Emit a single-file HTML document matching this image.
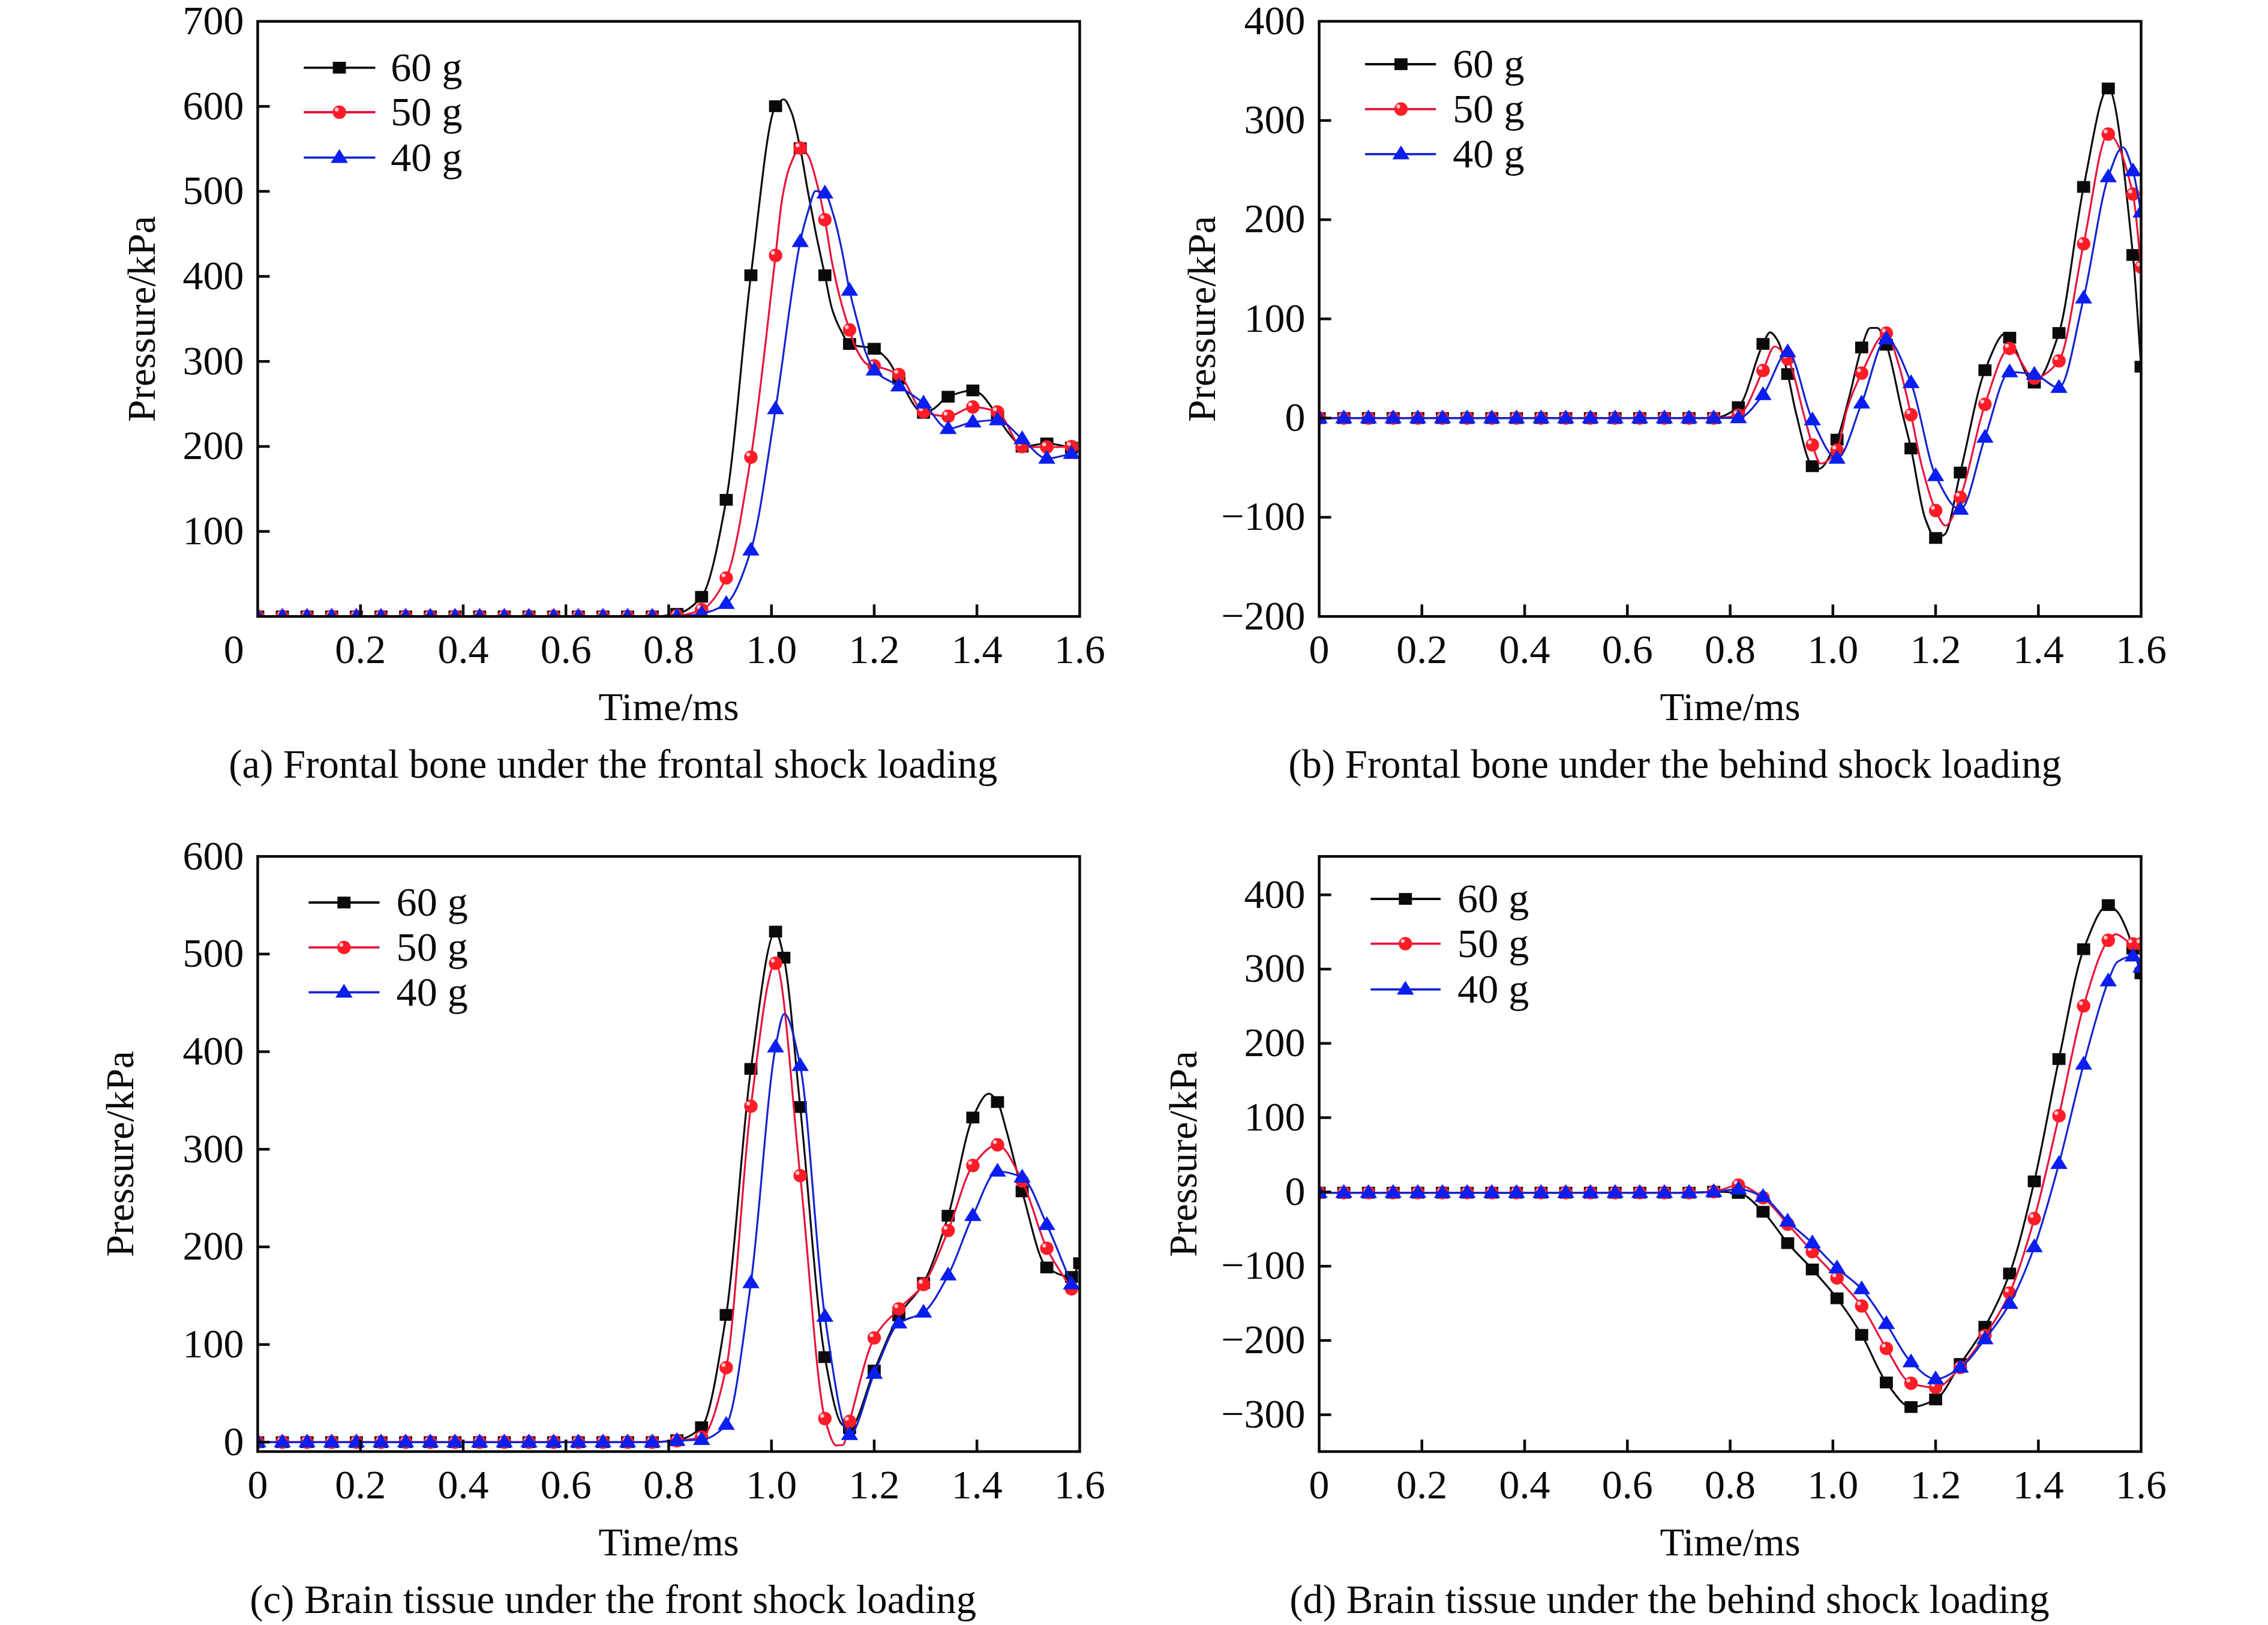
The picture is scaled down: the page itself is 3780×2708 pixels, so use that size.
<!DOCTYPE html><html><head><meta charset="utf-8"><style>html,body{margin:0;padding:0;background:#fff;width:3780px;height:2708px;overflow:hidden}</style></head><body><svg width="3780" height="2708" viewBox="0 0 3780 2708" style="display:block">
<defs><clipPath id="clipa"><rect x="429.5" y="35.6" width="1370.0" height="991.6999999999999"/></clipPath><clipPath id="clipb"><rect x="2198.6" y="35.5" width="1369.9" height="991.8"/></clipPath><clipPath id="clipc"><rect x="429.5" y="1427.2" width="1370.0" height="991.8"/></clipPath><clipPath id="clipd"><rect x="2198.6" y="1427.2" width="1369.9" height="991.8"/></clipPath></defs>
<rect width="3780" height="2708" fill="#fff"/>
<g font-family='"Liberation Serif", serif' font-size="66.5" fill="#0a0a0a">
<g clip-path="url(#clipa)">
<path d="M429.5 1027.3C443.2 1027.3 456.9 1027.3 470.6 1027.3C484.3 1027.3 498.0 1027.3 511.7 1027.3C525.4 1027.3 539.1 1027.3 552.8 1027.3C566.5 1027.3 580.2 1027.3 593.9 1027.3C607.6 1027.3 621.3 1027.3 635.0 1027.3C648.7 1027.3 662.4 1027.3 676.1 1027.3C689.8 1027.3 703.5 1027.3 717.2 1027.3C730.9 1027.3 744.6 1027.3 758.3 1027.3C772.0 1027.3 785.7 1027.3 799.4 1027.3C813.1 1027.3 826.8 1027.3 840.5 1027.3C854.2 1027.3 867.9 1027.3 881.6 1027.3C895.3 1027.3 909.0 1027.3 922.7 1027.3C936.4 1027.3 950.1 1027.3 963.8 1027.3C977.5 1027.3 991.2 1027.3 1004.9 1027.3C1018.6 1027.3 1032.3 1027.3 1046.0 1027.3C1059.7 1027.3 1073.4 1027.3 1087.1 1027.3C1100.8 1027.3 1114.5 1025.5 1128.2 1023.0C1141.9 1020.5 1155.6 1010.7 1169.3 994.6C1183.0 978.5 1196.7 908.2 1210.4 832.9C1224.1 757.6 1237.8 565.8 1251.5 458.7C1265.2 351.6 1278.9 195.2 1292.6 177.0C1297.1 171.0 1301.7 165.5 1306.2 165.5C1310.5 165.5 1314.8 177.0 1319.1 187.1C1324.0 198.6 1328.8 223.8 1333.7 247.0C1338.1 268.0 1342.5 297.5 1346.9 321.4C1351.0 343.8 1355.2 365.8 1359.3 386.2C1364.5 411.8 1369.6 434.5 1374.8 458.7C1378.9 477.7 1382.9 502.7 1387.0 515.8C1391.7 530.8 1396.3 540.9 1401.0 549.8C1406.0 559.3 1410.9 571.2 1415.9 573.2C1429.6 578.6 1443.3 576.6 1457.0 581.2C1464.5 583.7 1472.0 591.2 1479.5 599.7C1482.5 603.1 1485.6 609.0 1488.6 614.1C1491.8 619.4 1494.9 625.9 1498.1 631.0C1511.8 652.9 1525.5 688.0 1539.2 688.0C1544.0 688.0 1548.9 685.1 1553.7 682.8C1562.6 678.5 1571.4 664.7 1580.3 661.1C1594.0 655.6 1607.7 650.6 1621.4 650.6C1625.3 650.6 1629.3 653.3 1633.2 655.7C1639.8 659.7 1646.4 670.2 1653.0 679.2C1656.2 683.5 1659.3 689.0 1662.5 694.0C1665.4 698.6 1668.3 703.9 1671.2 708.1C1677.2 716.9 1683.2 725.3 1689.2 731.6C1694.0 736.6 1698.8 744.3 1703.6 744.3C1717.3 744.3 1731.0 739.0 1744.7 739.0C1758.4 739.0 1772.1 743.7 1785.8 746.0" fill="none" stroke="#0c0c0c" stroke-width="3.2" stroke-linejoin="round"/>
<rect x="418.6" y="1017.5" width="21.8" height="19.6" fill="#0a0a0a"/>
<rect x="459.7" y="1017.5" width="21.8" height="19.6" fill="#0a0a0a"/>
<rect x="500.8" y="1017.5" width="21.8" height="19.6" fill="#0a0a0a"/>
<rect x="541.9" y="1017.5" width="21.8" height="19.6" fill="#0a0a0a"/>
<rect x="583.0" y="1017.5" width="21.8" height="19.6" fill="#0a0a0a"/>
<rect x="624.1" y="1017.5" width="21.8" height="19.6" fill="#0a0a0a"/>
<rect x="665.2" y="1017.5" width="21.8" height="19.6" fill="#0a0a0a"/>
<rect x="706.3" y="1017.5" width="21.8" height="19.6" fill="#0a0a0a"/>
<rect x="747.4" y="1017.5" width="21.8" height="19.6" fill="#0a0a0a"/>
<rect x="788.5" y="1017.5" width="21.8" height="19.6" fill="#0a0a0a"/>
<rect x="829.6" y="1017.5" width="21.8" height="19.6" fill="#0a0a0a"/>
<rect x="870.7" y="1017.5" width="21.8" height="19.6" fill="#0a0a0a"/>
<rect x="911.8" y="1017.5" width="21.8" height="19.6" fill="#0a0a0a"/>
<rect x="952.9" y="1017.5" width="21.8" height="19.6" fill="#0a0a0a"/>
<rect x="994.0" y="1017.5" width="21.8" height="19.6" fill="#0a0a0a"/>
<rect x="1035.1" y="1017.5" width="21.8" height="19.6" fill="#0a0a0a"/>
<rect x="1076.2" y="1017.5" width="21.8" height="19.6" fill="#0a0a0a"/>
<rect x="1117.3" y="1013.2" width="21.8" height="19.6" fill="#0a0a0a"/>
<rect x="1158.4" y="984.8" width="21.8" height="19.6" fill="#0a0a0a"/>
<rect x="1199.5" y="823.1" width="21.8" height="19.6" fill="#0a0a0a"/>
<rect x="1240.6" y="448.9" width="21.8" height="19.6" fill="#0a0a0a"/>
<rect x="1281.7" y="167.2" width="21.8" height="19.6" fill="#0a0a0a"/>
<rect x="1322.8" y="237.2" width="21.8" height="19.6" fill="#0a0a0a"/>
<rect x="1363.9" y="448.9" width="21.8" height="19.6" fill="#0a0a0a"/>
<rect x="1405.0" y="563.4" width="21.8" height="19.6" fill="#0a0a0a"/>
<rect x="1446.1" y="571.4" width="21.8" height="19.6" fill="#0a0a0a"/>
<rect x="1487.2" y="621.2" width="21.8" height="19.6" fill="#0a0a0a"/>
<rect x="1528.3" y="678.2" width="21.8" height="19.6" fill="#0a0a0a"/>
<rect x="1569.4" y="651.3" width="21.8" height="19.6" fill="#0a0a0a"/>
<rect x="1610.5" y="640.8" width="21.8" height="19.6" fill="#0a0a0a"/>
<rect x="1651.6" y="684.2" width="21.8" height="19.6" fill="#0a0a0a"/>
<rect x="1692.7" y="734.5" width="21.8" height="19.6" fill="#0a0a0a"/>
<rect x="1733.8" y="729.2" width="21.8" height="19.6" fill="#0a0a0a"/>
<rect x="1774.9" y="736.2" width="21.8" height="19.6" fill="#0a0a0a"/>
<path d="M429.5 1027.3C443.2 1027.3 456.9 1027.3 470.6 1027.3C484.3 1027.3 498.0 1027.3 511.7 1027.3C525.4 1027.3 539.1 1027.3 552.8 1027.3C566.5 1027.3 580.2 1027.3 593.9 1027.3C607.6 1027.3 621.3 1027.3 635.0 1027.3C648.7 1027.3 662.4 1027.3 676.1 1027.3C689.8 1027.3 703.5 1027.3 717.2 1027.3C730.9 1027.3 744.6 1027.3 758.3 1027.3C772.0 1027.3 785.7 1027.3 799.4 1027.3C813.1 1027.3 826.8 1027.3 840.5 1027.3C854.2 1027.3 867.9 1027.3 881.6 1027.3C895.3 1027.3 909.0 1027.3 922.7 1027.3C936.4 1027.3 950.1 1027.3 963.8 1027.3C977.5 1027.3 991.2 1027.3 1004.9 1027.3C1018.6 1027.3 1032.3 1027.3 1046.0 1027.3C1059.7 1027.3 1073.4 1027.3 1087.1 1027.3C1100.8 1027.3 1114.5 1026.8 1128.2 1026.0C1141.9 1025.2 1155.6 1021.6 1169.3 1016.0C1183.0 1010.4 1196.7 991.0 1210.4 963.1C1224.1 935.2 1237.8 845.8 1251.5 761.9C1265.2 678.0 1278.9 540.9 1292.6 425.7C1296.3 394.6 1300.0 351.8 1303.7 330.6C1307.8 307.1 1311.9 288.6 1316.0 278.1C1321.9 262.9 1327.8 246.7 1333.7 246.7C1338.1 246.7 1342.6 253.1 1347.0 259.6C1352.1 267.1 1357.2 289.6 1362.3 309.0C1366.5 324.9 1370.6 344.6 1374.8 366.1C1378.9 387.1 1382.9 417.9 1387.0 438.6C1391.7 462.3 1396.3 482.7 1401.0 500.4C1406.0 519.2 1410.9 534.7 1415.9 549.8C1419.6 561.2 1423.4 574.4 1427.1 581.6C1433.1 593.2 1439.2 604.6 1445.2 606.9C1449.1 608.4 1453.1 608.5 1457.0 609.6C1470.7 613.3 1484.4 616.3 1498.1 624.1C1511.8 631.9 1525.5 682.0 1539.2 686.4C1552.9 690.8 1566.6 693.7 1580.3 693.7C1594.0 693.7 1607.7 678.3 1621.4 678.3C1635.1 678.3 1648.8 681.7 1662.5 686.4C1676.2 691.1 1689.9 743.8 1703.6 744.3C1717.3 744.8 1731.0 745.0 1744.7 745.0C1758.4 745.0 1772.1 744.5 1785.8 744.3" fill="none" stroke="#e8143c" stroke-width="3.2" stroke-linejoin="round"/>
<circle cx="429.5" cy="1027.3" r="11.2" fill="#ff1c26"/><circle cx="425.0" cy="1022.8" r="3.2" fill="#ffc8d8"/>
<circle cx="470.6" cy="1027.3" r="11.2" fill="#ff1c26"/><circle cx="466.1" cy="1022.8" r="3.2" fill="#ffc8d8"/>
<circle cx="511.7" cy="1027.3" r="11.2" fill="#ff1c26"/><circle cx="507.2" cy="1022.8" r="3.2" fill="#ffc8d8"/>
<circle cx="552.8" cy="1027.3" r="11.2" fill="#ff1c26"/><circle cx="548.3" cy="1022.8" r="3.2" fill="#ffc8d8"/>
<circle cx="593.9" cy="1027.3" r="11.2" fill="#ff1c26"/><circle cx="589.4" cy="1022.8" r="3.2" fill="#ffc8d8"/>
<circle cx="635.0" cy="1027.3" r="11.2" fill="#ff1c26"/><circle cx="630.5" cy="1022.8" r="3.2" fill="#ffc8d8"/>
<circle cx="676.1" cy="1027.3" r="11.2" fill="#ff1c26"/><circle cx="671.6" cy="1022.8" r="3.2" fill="#ffc8d8"/>
<circle cx="717.2" cy="1027.3" r="11.2" fill="#ff1c26"/><circle cx="712.7" cy="1022.8" r="3.2" fill="#ffc8d8"/>
<circle cx="758.3" cy="1027.3" r="11.2" fill="#ff1c26"/><circle cx="753.8" cy="1022.8" r="3.2" fill="#ffc8d8"/>
<circle cx="799.4" cy="1027.3" r="11.2" fill="#ff1c26"/><circle cx="794.9" cy="1022.8" r="3.2" fill="#ffc8d8"/>
<circle cx="840.5" cy="1027.3" r="11.2" fill="#ff1c26"/><circle cx="836.0" cy="1022.8" r="3.2" fill="#ffc8d8"/>
<circle cx="881.6" cy="1027.3" r="11.2" fill="#ff1c26"/><circle cx="877.1" cy="1022.8" r="3.2" fill="#ffc8d8"/>
<circle cx="922.7" cy="1027.3" r="11.2" fill="#ff1c26"/><circle cx="918.2" cy="1022.8" r="3.2" fill="#ffc8d8"/>
<circle cx="963.8" cy="1027.3" r="11.2" fill="#ff1c26"/><circle cx="959.3" cy="1022.8" r="3.2" fill="#ffc8d8"/>
<circle cx="1004.9" cy="1027.3" r="11.2" fill="#ff1c26"/><circle cx="1000.4" cy="1022.8" r="3.2" fill="#ffc8d8"/>
<circle cx="1046.0" cy="1027.3" r="11.2" fill="#ff1c26"/><circle cx="1041.5" cy="1022.8" r="3.2" fill="#ffc8d8"/>
<circle cx="1087.1" cy="1027.3" r="11.2" fill="#ff1c26"/><circle cx="1082.6" cy="1022.8" r="3.2" fill="#ffc8d8"/>
<circle cx="1128.2" cy="1026.0" r="11.2" fill="#ff1c26"/><circle cx="1123.7" cy="1021.5" r="3.2" fill="#ffc8d8"/>
<circle cx="1169.3" cy="1016.0" r="11.2" fill="#ff1c26"/><circle cx="1164.8" cy="1011.5" r="3.2" fill="#ffc8d8"/>
<circle cx="1210.4" cy="963.1" r="11.2" fill="#ff1c26"/><circle cx="1205.9" cy="958.6" r="3.2" fill="#ffc8d8"/>
<circle cx="1251.5" cy="761.9" r="11.2" fill="#ff1c26"/><circle cx="1247.0" cy="757.4" r="3.2" fill="#ffc8d8"/>
<circle cx="1292.6" cy="425.7" r="11.2" fill="#ff1c26"/><circle cx="1288.1" cy="421.2" r="3.2" fill="#ffc8d8"/>
<circle cx="1333.7" cy="246.7" r="11.2" fill="#ff1c26"/><circle cx="1329.2" cy="242.2" r="3.2" fill="#ffc8d8"/>
<circle cx="1374.8" cy="366.1" r="11.2" fill="#ff1c26"/><circle cx="1370.3" cy="361.6" r="3.2" fill="#ffc8d8"/>
<circle cx="1415.9" cy="549.8" r="11.2" fill="#ff1c26"/><circle cx="1411.4" cy="545.3" r="3.2" fill="#ffc8d8"/>
<circle cx="1457.0" cy="609.6" r="11.2" fill="#ff1c26"/><circle cx="1452.5" cy="605.1" r="3.2" fill="#ffc8d8"/>
<circle cx="1498.1" cy="624.1" r="11.2" fill="#ff1c26"/><circle cx="1493.6" cy="619.6" r="3.2" fill="#ffc8d8"/>
<circle cx="1539.2" cy="686.4" r="11.2" fill="#ff1c26"/><circle cx="1534.7" cy="681.9" r="3.2" fill="#ffc8d8"/>
<circle cx="1580.3" cy="693.7" r="11.2" fill="#ff1c26"/><circle cx="1575.8" cy="689.2" r="3.2" fill="#ffc8d8"/>
<circle cx="1621.4" cy="678.3" r="11.2" fill="#ff1c26"/><circle cx="1616.9" cy="673.8" r="3.2" fill="#ffc8d8"/>
<circle cx="1662.5" cy="686.4" r="11.2" fill="#ff1c26"/><circle cx="1658.0" cy="681.9" r="3.2" fill="#ffc8d8"/>
<circle cx="1703.6" cy="744.3" r="11.2" fill="#ff1c26"/><circle cx="1699.1" cy="739.8" r="3.2" fill="#ffc8d8"/>
<circle cx="1744.7" cy="745.0" r="11.2" fill="#ff1c26"/><circle cx="1740.2" cy="740.5" r="3.2" fill="#ffc8d8"/>
<circle cx="1785.8" cy="744.3" r="11.2" fill="#ff1c26"/><circle cx="1781.3" cy="739.8" r="3.2" fill="#ffc8d8"/>
<path d="M429.5 1027.3C443.2 1027.3 456.9 1027.3 470.6 1027.3C484.3 1027.3 498.0 1027.3 511.7 1027.3C525.4 1027.3 539.1 1027.3 552.8 1027.3C566.5 1027.3 580.2 1027.3 593.9 1027.3C607.6 1027.3 621.3 1027.3 635.0 1027.3C648.7 1027.3 662.4 1027.3 676.1 1027.3C689.8 1027.3 703.5 1027.3 717.2 1027.3C730.9 1027.3 744.6 1027.3 758.3 1027.3C772.0 1027.3 785.7 1027.3 799.4 1027.3C813.1 1027.3 826.8 1027.3 840.5 1027.3C854.2 1027.3 867.9 1027.3 881.6 1027.3C895.3 1027.3 909.0 1027.3 922.7 1027.3C936.4 1027.3 950.1 1027.3 963.8 1027.3C977.5 1027.3 991.2 1027.3 1004.9 1027.3C1018.6 1027.3 1032.3 1027.3 1046.0 1027.3C1059.7 1027.3 1073.4 1027.3 1087.1 1027.3C1100.8 1027.3 1114.5 1027.3 1128.2 1027.3C1141.9 1027.3 1155.6 1025.0 1169.3 1022.5C1183.0 1020.0 1196.7 1015.3 1210.4 1006.0C1224.1 996.7 1237.8 960.1 1251.5 917.0C1265.2 873.9 1278.9 766.6 1292.6 681.5C1306.3 596.4 1320.0 467.2 1333.7 403.0C1338.1 382.4 1342.5 366.2 1346.9 352.2C1351.0 339.0 1355.2 318.3 1359.3 318.3C1364.5 318.3 1369.6 319.7 1374.8 322.0C1379.9 324.2 1384.9 345.1 1390.0 361.5C1394.2 375.0 1398.3 394.6 1402.5 414.0C1407.0 434.8 1411.4 463.9 1415.9 484.0C1420.7 505.5 1425.4 522.2 1430.2 540.5C1434.3 556.4 1438.5 575.6 1442.6 586.8C1447.4 599.8 1452.2 611.8 1457.0 617.0C1470.7 631.8 1484.4 634.3 1498.1 643.5C1511.8 652.7 1525.5 660.6 1539.2 672.0C1552.9 683.4 1566.6 714.5 1580.3 714.5C1594.0 714.5 1607.7 705.3 1621.4 703.5C1635.1 701.7 1648.8 700.0 1662.5 700.0C1676.2 700.0 1689.9 720.8 1703.6 731.5C1717.3 742.2 1731.0 764.0 1744.7 764.0C1758.4 764.0 1772.1 758.7 1785.8 756.0" fill="none" stroke="#1424d0" stroke-width="3.2" stroke-linejoin="round"/>
<path d="M429.5 1013.0L443.8 1036.0L415.2 1036.0Z" fill="#0a1ef0"/>
<path d="M470.6 1013.0L484.9 1036.0L456.3 1036.0Z" fill="#0a1ef0"/>
<path d="M511.7 1013.0L526.0 1036.0L497.4 1036.0Z" fill="#0a1ef0"/>
<path d="M552.8 1013.0L567.1 1036.0L538.5 1036.0Z" fill="#0a1ef0"/>
<path d="M593.9 1013.0L608.2 1036.0L579.6 1036.0Z" fill="#0a1ef0"/>
<path d="M635.0 1013.0L649.3 1036.0L620.7 1036.0Z" fill="#0a1ef0"/>
<path d="M676.1 1013.0L690.4 1036.0L661.8 1036.0Z" fill="#0a1ef0"/>
<path d="M717.2 1013.0L731.5 1036.0L702.9 1036.0Z" fill="#0a1ef0"/>
<path d="M758.3 1013.0L772.6 1036.0L744.0 1036.0Z" fill="#0a1ef0"/>
<path d="M799.4 1013.0L813.7 1036.0L785.1 1036.0Z" fill="#0a1ef0"/>
<path d="M840.5 1013.0L854.8 1036.0L826.2 1036.0Z" fill="#0a1ef0"/>
<path d="M881.6 1013.0L895.9 1036.0L867.3 1036.0Z" fill="#0a1ef0"/>
<path d="M922.7 1013.0L937.0 1036.0L908.4 1036.0Z" fill="#0a1ef0"/>
<path d="M963.8 1013.0L978.1 1036.0L949.5 1036.0Z" fill="#0a1ef0"/>
<path d="M1004.9 1013.0L1019.2 1036.0L990.6 1036.0Z" fill="#0a1ef0"/>
<path d="M1046.0 1013.0L1060.3 1036.0L1031.7 1036.0Z" fill="#0a1ef0"/>
<path d="M1087.1 1013.0L1101.4 1036.0L1072.8 1036.0Z" fill="#0a1ef0"/>
<path d="M1128.2 1013.0L1142.5 1036.0L1113.9 1036.0Z" fill="#0a1ef0"/>
<path d="M1169.3 1008.2L1183.6 1031.2L1155.0 1031.2Z" fill="#0a1ef0"/>
<path d="M1210.4 991.7L1224.7 1014.7L1196.1 1014.7Z" fill="#0a1ef0"/>
<path d="M1251.5 902.7L1265.8 925.7L1237.2 925.7Z" fill="#0a1ef0"/>
<path d="M1292.6 667.2L1306.9 690.2L1278.3 690.2Z" fill="#0a1ef0"/>
<path d="M1333.7 388.7L1348.0 411.7L1319.4 411.7Z" fill="#0a1ef0"/>
<path d="M1374.8 307.7L1389.1 330.7L1360.5 330.7Z" fill="#0a1ef0"/>
<path d="M1415.9 469.7L1430.2 492.7L1401.6 492.7Z" fill="#0a1ef0"/>
<path d="M1457.0 602.7L1471.3 625.7L1442.7 625.7Z" fill="#0a1ef0"/>
<path d="M1498.1 629.2L1512.4 652.2L1483.8 652.2Z" fill="#0a1ef0"/>
<path d="M1539.2 657.7L1553.5 680.7L1524.9 680.7Z" fill="#0a1ef0"/>
<path d="M1580.3 700.2L1594.6 723.2L1566.0 723.2Z" fill="#0a1ef0"/>
<path d="M1621.4 689.2L1635.7 712.2L1607.1 712.2Z" fill="#0a1ef0"/>
<path d="M1662.5 685.7L1676.8 708.7L1648.2 708.7Z" fill="#0a1ef0"/>
<path d="M1703.6 717.2L1717.9 740.2L1689.3 740.2Z" fill="#0a1ef0"/>
<path d="M1744.7 749.7L1759.0 772.7L1730.4 772.7Z" fill="#0a1ef0"/>
<path d="M1785.8 741.7L1800.1 764.7L1771.5 764.7Z" fill="#0a1ef0"/>
</g>
<rect x="429.5" y="35.6" width="1370.0" height="991.7" fill="none" stroke="#0a0a0a" stroke-width="4.5"/>
<line x1="429.5" x2="449.5" y1="885.6" y2="885.6" stroke="#0a0a0a" stroke-width="4.5"/>
<line x1="429.5" x2="449.5" y1="744.0" y2="744.0" stroke="#0a0a0a" stroke-width="4.5"/>
<line x1="429.5" x2="449.5" y1="602.3" y2="602.3" stroke="#0a0a0a" stroke-width="4.5"/>
<line x1="429.5" x2="449.5" y1="460.6" y2="460.6" stroke="#0a0a0a" stroke-width="4.5"/>
<line x1="429.5" x2="449.5" y1="318.9" y2="318.9" stroke="#0a0a0a" stroke-width="4.5"/>
<line x1="429.5" x2="449.5" y1="177.3" y2="177.3" stroke="#0a0a0a" stroke-width="4.5"/>
<text x="406.5" y="906.9" text-anchor="end" font-size="68">100</text>
<text x="406.5" y="765.3" text-anchor="end" font-size="68">200</text>
<text x="406.5" y="623.6" text-anchor="end" font-size="68">300</text>
<text x="406.5" y="481.9" text-anchor="end" font-size="68">400</text>
<text x="406.5" y="340.2" text-anchor="end" font-size="68">500</text>
<text x="406.5" y="198.6" text-anchor="end" font-size="68">600</text>
<text x="406.5" y="56.9" text-anchor="end" font-size="68">700</text>
<line x1="600.8" x2="600.8" y1="1027.3" y2="1007.3" stroke="#0a0a0a" stroke-width="4.5"/>
<line x1="772.0" x2="772.0" y1="1027.3" y2="1007.3" stroke="#0a0a0a" stroke-width="4.5"/>
<line x1="943.2" x2="943.2" y1="1027.3" y2="1007.3" stroke="#0a0a0a" stroke-width="4.5"/>
<line x1="1114.5" x2="1114.5" y1="1027.3" y2="1007.3" stroke="#0a0a0a" stroke-width="4.5"/>
<line x1="1285.8" x2="1285.8" y1="1027.3" y2="1007.3" stroke="#0a0a0a" stroke-width="4.5"/>
<line x1="1457.0" x2="1457.0" y1="1027.3" y2="1007.3" stroke="#0a0a0a" stroke-width="4.5"/>
<line x1="1628.2" x2="1628.2" y1="1027.3" y2="1007.3" stroke="#0a0a0a" stroke-width="4.5"/>
<text x="389.7" y="1105.3" text-anchor="middle" font-size="68">0</text>
<text x="600.8" y="1105.3" text-anchor="middle" font-size="68">0.2</text>
<text x="772.0" y="1105.3" text-anchor="middle" font-size="68">0.4</text>
<text x="943.2" y="1105.3" text-anchor="middle" font-size="68">0.6</text>
<text x="1114.5" y="1105.3" text-anchor="middle" font-size="68">0.8</text>
<text x="1285.8" y="1105.3" text-anchor="middle" font-size="68">1.0</text>
<text x="1457.0" y="1105.3" text-anchor="middle" font-size="68">1.2</text>
<text x="1628.2" y="1105.3" text-anchor="middle" font-size="68">1.4</text>
<text x="1799.5" y="1105.3" text-anchor="middle" font-size="68">1.6</text>
<text x="1114.5" y="1200.0" text-anchor="middle">Time/ms</text>
<text transform="translate(258.4 531.4) rotate(-90)" x="0" y="0" text-anchor="middle">Pressure/kPa</text>
<text x="381.3" y="1296.3" font-size="66.78">(a) Frontal bone under the frontal shock loading</text>
<line x1="506.3" x2="625.5" y1="112.8" y2="112.8" stroke="#0c0c0c" stroke-width="3.8"/>
<rect x="554.7" y="103.0" width="21.8" height="19.6" fill="#0a0a0a"/>
<text x="651.2" y="134.8" font-size="68.3">60 g</text>
<line x1="506.3" x2="625.5" y1="187.0" y2="187.0" stroke="#e8143c" stroke-width="3.8"/>
<circle cx="565.6" cy="187.0" r="11.2" fill="#ff1c26"/><circle cx="561.1" cy="182.5" r="3.2" fill="#ffc8d8"/>
<text x="651.2" y="209.0" font-size="68.3">50 g</text>
<line x1="506.3" x2="625.5" y1="262.7" y2="262.7" stroke="#1424d0" stroke-width="3.8"/>
<path d="M565.6 248.4L579.9 271.4L551.3 271.4Z" fill="#0a1ef0"/>
<text x="651.2" y="284.7" font-size="68.3">40 g</text>
<g clip-path="url(#clipb)">
<path d="M2198.6 696.7C2212.3 696.7 2226.0 696.7 2239.7 696.7C2253.4 696.7 2267.1 696.7 2280.8 696.7C2294.5 696.7 2308.2 696.7 2321.9 696.7C2335.6 696.7 2349.3 696.7 2363.0 696.7C2376.7 696.7 2390.4 696.7 2404.1 696.7C2417.8 696.7 2431.5 696.7 2445.2 696.7C2458.9 696.7 2472.6 696.7 2486.3 696.7C2500.0 696.7 2513.7 696.7 2527.4 696.7C2541.1 696.7 2554.8 696.7 2568.5 696.7C2582.2 696.7 2595.9 696.7 2609.6 696.7C2623.3 696.7 2637.0 696.7 2650.7 696.7C2664.4 696.7 2678.1 696.7 2691.8 696.7C2705.5 696.7 2719.2 696.7 2732.9 696.7C2746.6 696.7 2760.3 696.7 2774.0 696.7C2787.7 696.7 2801.4 696.7 2815.1 696.7C2828.8 696.7 2842.5 696.7 2856.2 696.7C2869.9 696.7 2883.6 688.8 2897.3 678.5C2911.0 668.2 2924.7 599.4 2938.4 573.1C2942.3 565.6 2946.2 553.9 2950.1 553.9C2954.5 553.9 2959.0 561.3 2963.4 568.6C2968.8 577.4 2974.1 602.0 2979.5 623.3C2984.0 641.1 2988.5 669.1 2993.0 686.8C3002.2 723.0 3011.4 770.9 3020.6 776.9C3024.2 779.2 3027.7 781.3 3031.3 781.3C3041.4 781.3 3051.6 755.4 3061.7 732.6C3068.3 717.7 3075.0 687.8 3081.6 663.2C3088.7 637.0 3095.7 599.2 3102.8 579.0C3107.5 565.5 3112.3 546.5 3117.0 546.5C3120.9 546.5 3124.9 546.5 3128.8 546.5C3133.8 546.5 3138.9 561.9 3143.9 574.5C3152.7 596.4 3161.4 650.2 3170.2 686.8C3175.1 707.4 3180.1 725.5 3185.0 747.4C3192.9 782.4 3200.7 843.2 3208.6 864.0C3214.4 879.4 3220.3 896.5 3226.1 896.5C3231.1 896.5 3236.1 893.9 3241.1 890.6C3249.8 884.8 3258.5 822.7 3267.2 787.5C3280.9 732.1 3294.6 650.5 3308.3 616.9C3320.0 588.2 3331.7 554.9 3343.4 554.9C3345.4 554.9 3347.4 559.8 3349.4 562.7C3363.1 582.7 3376.8 637.6 3390.5 637.6C3404.2 637.6 3417.9 596.1 3431.6 554.9C3445.3 513.7 3459.0 376.8 3472.7 311.5C3486.4 246.2 3500.1 147.4 3513.8 147.4C3527.5 147.4 3541.2 293.5 3554.9 424.9C3559.4 468.4 3564.0 549.0 3568.5 611.1" fill="none" stroke="#0c0c0c" stroke-width="3.2" stroke-linejoin="round"/>
<rect x="2187.7" y="686.9" width="21.8" height="19.6" fill="#0a0a0a"/>
<rect x="2228.8" y="686.9" width="21.8" height="19.6" fill="#0a0a0a"/>
<rect x="2269.9" y="686.9" width="21.8" height="19.6" fill="#0a0a0a"/>
<rect x="2311.0" y="686.9" width="21.8" height="19.6" fill="#0a0a0a"/>
<rect x="2352.1" y="686.9" width="21.8" height="19.6" fill="#0a0a0a"/>
<rect x="2393.2" y="686.9" width="21.8" height="19.6" fill="#0a0a0a"/>
<rect x="2434.3" y="686.9" width="21.8" height="19.6" fill="#0a0a0a"/>
<rect x="2475.4" y="686.9" width="21.8" height="19.6" fill="#0a0a0a"/>
<rect x="2516.5" y="686.9" width="21.8" height="19.6" fill="#0a0a0a"/>
<rect x="2557.6" y="686.9" width="21.8" height="19.6" fill="#0a0a0a"/>
<rect x="2598.7" y="686.9" width="21.8" height="19.6" fill="#0a0a0a"/>
<rect x="2639.8" y="686.9" width="21.8" height="19.6" fill="#0a0a0a"/>
<rect x="2680.9" y="686.9" width="21.8" height="19.6" fill="#0a0a0a"/>
<rect x="2722.0" y="686.9" width="21.8" height="19.6" fill="#0a0a0a"/>
<rect x="2763.1" y="686.9" width="21.8" height="19.6" fill="#0a0a0a"/>
<rect x="2804.2" y="686.9" width="21.8" height="19.6" fill="#0a0a0a"/>
<rect x="2845.3" y="686.9" width="21.8" height="19.6" fill="#0a0a0a"/>
<rect x="2886.4" y="668.7" width="21.8" height="19.6" fill="#0a0a0a"/>
<rect x="2927.5" y="563.3" width="21.8" height="19.6" fill="#0a0a0a"/>
<rect x="2968.6" y="613.5" width="21.8" height="19.6" fill="#0a0a0a"/>
<rect x="3009.7" y="767.1" width="21.8" height="19.6" fill="#0a0a0a"/>
<rect x="3050.8" y="722.8" width="21.8" height="19.6" fill="#0a0a0a"/>
<rect x="3091.9" y="569.2" width="21.8" height="19.6" fill="#0a0a0a"/>
<rect x="3133.0" y="564.7" width="21.8" height="19.6" fill="#0a0a0a"/>
<rect x="3174.1" y="737.6" width="21.8" height="19.6" fill="#0a0a0a"/>
<rect x="3215.2" y="886.7" width="21.8" height="19.6" fill="#0a0a0a"/>
<rect x="3256.3" y="777.7" width="21.8" height="19.6" fill="#0a0a0a"/>
<rect x="3297.4" y="607.1" width="21.8" height="19.6" fill="#0a0a0a"/>
<rect x="3338.5" y="552.9" width="21.8" height="19.6" fill="#0a0a0a"/>
<rect x="3379.6" y="627.8" width="21.8" height="19.6" fill="#0a0a0a"/>
<rect x="3420.7" y="545.1" width="21.8" height="19.6" fill="#0a0a0a"/>
<rect x="3461.8" y="301.7" width="21.8" height="19.6" fill="#0a0a0a"/>
<rect x="3502.9" y="137.6" width="21.8" height="19.6" fill="#0a0a0a"/>
<rect x="3544.0" y="415.1" width="21.8" height="19.6" fill="#0a0a0a"/>
<rect x="3557.6" y="601.3" width="21.8" height="19.6" fill="#0a0a0a"/>
<path d="M2198.6 696.7C2212.3 696.7 2226.0 696.7 2239.7 696.7C2253.4 696.7 2267.1 696.7 2280.8 696.7C2294.5 696.7 2308.2 696.7 2321.9 696.7C2335.6 696.7 2349.3 696.7 2363.0 696.7C2376.7 696.7 2390.4 696.7 2404.1 696.7C2417.8 696.7 2431.5 696.7 2445.2 696.7C2458.9 696.7 2472.6 696.7 2486.3 696.7C2500.0 696.7 2513.7 696.7 2527.4 696.7C2541.1 696.7 2554.8 696.7 2568.5 696.7C2582.2 696.7 2595.9 696.7 2609.6 696.7C2623.3 696.7 2637.0 696.7 2650.7 696.7C2664.4 696.7 2678.1 696.7 2691.8 696.7C2705.5 696.7 2719.2 696.7 2732.9 696.7C2746.6 696.7 2760.3 696.7 2774.0 696.7C2787.7 696.7 2801.4 696.7 2815.1 696.7C2828.8 696.7 2842.5 696.7 2856.2 696.7C2869.9 696.7 2883.6 694.9 2897.3 692.0C2911.0 689.1 2924.7 644.2 2938.4 617.4C2944.8 604.9 2951.1 577.5 2957.5 577.5C2964.8 577.5 2972.2 587.6 2979.5 598.2C2988.9 611.8 2998.3 662.8 3007.7 695.7C3012.0 710.8 3016.3 729.5 3020.6 741.4C3025.2 754.1 3029.7 772.5 3034.3 772.5C3043.4 772.5 3052.6 763.4 3061.7 750.3C3067.3 742.2 3073.0 698.4 3078.6 680.9C3086.7 655.8 3094.7 637.8 3102.8 621.8C3116.5 594.7 3130.2 555.3 3143.9 555.3C3150.7 555.3 3157.5 585.8 3164.3 607.0C3171.2 628.5 3178.1 660.9 3185.0 691.2C3190.9 717.1 3196.8 752.5 3202.7 775.4C3210.5 805.6 3218.3 835.0 3226.1 850.8C3231.6 861.9 3237.1 875.9 3242.6 875.9C3250.8 875.9 3259.0 849.1 3267.2 828.9C3280.9 795.1 3294.6 712.6 3308.3 673.8C3322.0 635.0 3335.7 580.7 3349.4 580.7C3363.1 580.7 3376.8 630.0 3390.5 630.0C3404.2 630.0 3417.9 618.0 3431.6 601.4C3445.3 584.8 3459.0 469.2 3472.7 406.3C3486.4 343.4 3500.1 223.5 3513.8 223.5C3527.5 223.5 3541.2 265.5 3554.9 323.4C3559.4 342.6 3564.0 404.6 3568.5 445.2" fill="none" stroke="#e8143c" stroke-width="3.2" stroke-linejoin="round"/>
<circle cx="2198.6" cy="696.7" r="11.2" fill="#ff1c26"/><circle cx="2194.1" cy="692.2" r="3.2" fill="#ffc8d8"/>
<circle cx="2239.7" cy="696.7" r="11.2" fill="#ff1c26"/><circle cx="2235.2" cy="692.2" r="3.2" fill="#ffc8d8"/>
<circle cx="2280.8" cy="696.7" r="11.2" fill="#ff1c26"/><circle cx="2276.3" cy="692.2" r="3.2" fill="#ffc8d8"/>
<circle cx="2321.9" cy="696.7" r="11.2" fill="#ff1c26"/><circle cx="2317.4" cy="692.2" r="3.2" fill="#ffc8d8"/>
<circle cx="2363.0" cy="696.7" r="11.2" fill="#ff1c26"/><circle cx="2358.5" cy="692.2" r="3.2" fill="#ffc8d8"/>
<circle cx="2404.1" cy="696.7" r="11.2" fill="#ff1c26"/><circle cx="2399.6" cy="692.2" r="3.2" fill="#ffc8d8"/>
<circle cx="2445.2" cy="696.7" r="11.2" fill="#ff1c26"/><circle cx="2440.7" cy="692.2" r="3.2" fill="#ffc8d8"/>
<circle cx="2486.3" cy="696.7" r="11.2" fill="#ff1c26"/><circle cx="2481.8" cy="692.2" r="3.2" fill="#ffc8d8"/>
<circle cx="2527.4" cy="696.7" r="11.2" fill="#ff1c26"/><circle cx="2522.9" cy="692.2" r="3.2" fill="#ffc8d8"/>
<circle cx="2568.5" cy="696.7" r="11.2" fill="#ff1c26"/><circle cx="2564.0" cy="692.2" r="3.2" fill="#ffc8d8"/>
<circle cx="2609.6" cy="696.7" r="11.2" fill="#ff1c26"/><circle cx="2605.1" cy="692.2" r="3.2" fill="#ffc8d8"/>
<circle cx="2650.7" cy="696.7" r="11.2" fill="#ff1c26"/><circle cx="2646.2" cy="692.2" r="3.2" fill="#ffc8d8"/>
<circle cx="2691.8" cy="696.7" r="11.2" fill="#ff1c26"/><circle cx="2687.3" cy="692.2" r="3.2" fill="#ffc8d8"/>
<circle cx="2732.9" cy="696.7" r="11.2" fill="#ff1c26"/><circle cx="2728.4" cy="692.2" r="3.2" fill="#ffc8d8"/>
<circle cx="2774.0" cy="696.7" r="11.2" fill="#ff1c26"/><circle cx="2769.5" cy="692.2" r="3.2" fill="#ffc8d8"/>
<circle cx="2815.1" cy="696.7" r="11.2" fill="#ff1c26"/><circle cx="2810.6" cy="692.2" r="3.2" fill="#ffc8d8"/>
<circle cx="2856.2" cy="696.7" r="11.2" fill="#ff1c26"/><circle cx="2851.7" cy="692.2" r="3.2" fill="#ffc8d8"/>
<circle cx="2897.3" cy="692.0" r="11.2" fill="#ff1c26"/><circle cx="2892.8" cy="687.5" r="3.2" fill="#ffc8d8"/>
<circle cx="2938.4" cy="617.4" r="11.2" fill="#ff1c26"/><circle cx="2933.9" cy="612.9" r="3.2" fill="#ffc8d8"/>
<circle cx="2979.5" cy="598.2" r="11.2" fill="#ff1c26"/><circle cx="2975.0" cy="593.7" r="3.2" fill="#ffc8d8"/>
<circle cx="3020.6" cy="741.4" r="11.2" fill="#ff1c26"/><circle cx="3016.1" cy="736.9" r="3.2" fill="#ffc8d8"/>
<circle cx="3061.7" cy="750.3" r="11.2" fill="#ff1c26"/><circle cx="3057.2" cy="745.8" r="3.2" fill="#ffc8d8"/>
<circle cx="3102.8" cy="621.8" r="11.2" fill="#ff1c26"/><circle cx="3098.3" cy="617.3" r="3.2" fill="#ffc8d8"/>
<circle cx="3143.9" cy="555.3" r="11.2" fill="#ff1c26"/><circle cx="3139.4" cy="550.8" r="3.2" fill="#ffc8d8"/>
<circle cx="3185.0" cy="691.2" r="11.2" fill="#ff1c26"/><circle cx="3180.5" cy="686.7" r="3.2" fill="#ffc8d8"/>
<circle cx="3226.1" cy="850.8" r="11.2" fill="#ff1c26"/><circle cx="3221.6" cy="846.3" r="3.2" fill="#ffc8d8"/>
<circle cx="3267.2" cy="828.9" r="11.2" fill="#ff1c26"/><circle cx="3262.7" cy="824.4" r="3.2" fill="#ffc8d8"/>
<circle cx="3308.3" cy="673.8" r="11.2" fill="#ff1c26"/><circle cx="3303.8" cy="669.3" r="3.2" fill="#ffc8d8"/>
<circle cx="3349.4" cy="580.7" r="11.2" fill="#ff1c26"/><circle cx="3344.9" cy="576.2" r="3.2" fill="#ffc8d8"/>
<circle cx="3390.5" cy="630.0" r="11.2" fill="#ff1c26"/><circle cx="3386.0" cy="625.5" r="3.2" fill="#ffc8d8"/>
<circle cx="3431.6" cy="601.4" r="11.2" fill="#ff1c26"/><circle cx="3427.1" cy="596.9" r="3.2" fill="#ffc8d8"/>
<circle cx="3472.7" cy="406.3" r="11.2" fill="#ff1c26"/><circle cx="3468.2" cy="401.8" r="3.2" fill="#ffc8d8"/>
<circle cx="3513.8" cy="223.5" r="11.2" fill="#ff1c26"/><circle cx="3509.3" cy="219.0" r="3.2" fill="#ffc8d8"/>
<circle cx="3554.9" cy="323.4" r="11.2" fill="#ff1c26"/><circle cx="3550.4" cy="318.9" r="3.2" fill="#ffc8d8"/>
<circle cx="3568.5" cy="445.2" r="11.2" fill="#ff1c26"/><circle cx="3564.0" cy="440.7" r="3.2" fill="#ffc8d8"/>
<path d="M2198.6 696.7C2212.3 696.7 2226.0 696.7 2239.7 696.7C2253.4 696.7 2267.1 696.7 2280.8 696.7C2294.5 696.7 2308.2 696.7 2321.9 696.7C2335.6 696.7 2349.3 696.7 2363.0 696.7C2376.7 696.7 2390.4 696.7 2404.1 696.7C2417.8 696.7 2431.5 696.7 2445.2 696.7C2458.9 696.7 2472.6 696.7 2486.3 696.7C2500.0 696.7 2513.7 696.7 2527.4 696.7C2541.1 696.7 2554.8 696.7 2568.5 696.7C2582.2 696.7 2595.9 696.7 2609.6 696.7C2623.3 696.7 2637.0 696.7 2650.7 696.7C2664.4 696.7 2678.1 696.7 2691.8 696.7C2705.5 696.7 2719.2 696.7 2732.9 696.7C2746.6 696.7 2760.3 696.7 2774.0 696.7C2787.7 696.7 2801.4 696.7 2815.1 696.7C2828.8 696.7 2842.5 696.7 2856.2 696.7C2869.9 696.7 2883.6 696.6 2897.3 696.5C2911.0 696.4 2924.7 674.7 2938.4 658.0C2952.1 641.3 2965.8 586.5 2979.5 586.5C2993.2 586.5 3006.9 672.7 3020.6 700.0C3034.3 727.3 3048.0 764.0 3061.7 764.0C3075.4 764.0 3089.1 705.0 3102.8 672.0C3116.5 639.0 3130.2 565.0 3143.9 565.0C3157.6 565.0 3171.3 604.9 3185.0 638.0C3198.7 671.1 3212.4 765.6 3226.1 793.0C3239.8 820.4 3253.5 849.0 3267.2 849.0C3280.9 849.0 3294.6 767.1 3308.3 729.0C3322.0 690.9 3335.7 620.0 3349.4 620.0C3363.1 620.0 3376.8 621.7 3390.5 624.0C3404.2 626.3 3417.9 646.0 3431.6 646.0C3445.3 646.0 3459.0 554.2 3472.7 497.0C3486.4 439.8 3500.1 333.2 3513.8 295.0C3521.9 272.5 3529.9 245.5 3538.0 245.5C3543.6 245.5 3549.3 266.7 3554.9 285.0C3559.4 299.7 3564.0 330.9 3568.5 353.8" fill="none" stroke="#1424d0" stroke-width="3.2" stroke-linejoin="round"/>
<path d="M2198.6 682.4L2212.9 705.4L2184.3 705.4Z" fill="#0a1ef0"/>
<path d="M2239.7 682.4L2254.0 705.4L2225.4 705.4Z" fill="#0a1ef0"/>
<path d="M2280.8 682.4L2295.1 705.4L2266.5 705.4Z" fill="#0a1ef0"/>
<path d="M2321.9 682.4L2336.2 705.4L2307.6 705.4Z" fill="#0a1ef0"/>
<path d="M2363.0 682.4L2377.3 705.4L2348.7 705.4Z" fill="#0a1ef0"/>
<path d="M2404.1 682.4L2418.4 705.4L2389.8 705.4Z" fill="#0a1ef0"/>
<path d="M2445.2 682.4L2459.5 705.4L2430.9 705.4Z" fill="#0a1ef0"/>
<path d="M2486.3 682.4L2500.6 705.4L2472.0 705.4Z" fill="#0a1ef0"/>
<path d="M2527.4 682.4L2541.7 705.4L2513.1 705.4Z" fill="#0a1ef0"/>
<path d="M2568.5 682.4L2582.8 705.4L2554.2 705.4Z" fill="#0a1ef0"/>
<path d="M2609.6 682.4L2623.9 705.4L2595.3 705.4Z" fill="#0a1ef0"/>
<path d="M2650.7 682.4L2665.0 705.4L2636.4 705.4Z" fill="#0a1ef0"/>
<path d="M2691.8 682.4L2706.1 705.4L2677.5 705.4Z" fill="#0a1ef0"/>
<path d="M2732.9 682.4L2747.2 705.4L2718.6 705.4Z" fill="#0a1ef0"/>
<path d="M2774.0 682.4L2788.3 705.4L2759.7 705.4Z" fill="#0a1ef0"/>
<path d="M2815.1 682.4L2829.4 705.4L2800.8 705.4Z" fill="#0a1ef0"/>
<path d="M2856.2 682.4L2870.5 705.4L2841.9 705.4Z" fill="#0a1ef0"/>
<path d="M2897.3 682.2L2911.6 705.2L2883.0 705.2Z" fill="#0a1ef0"/>
<path d="M2938.4 643.7L2952.7 666.7L2924.1 666.7Z" fill="#0a1ef0"/>
<path d="M2979.5 572.2L2993.8 595.2L2965.2 595.2Z" fill="#0a1ef0"/>
<path d="M3020.6 685.7L3034.9 708.7L3006.3 708.7Z" fill="#0a1ef0"/>
<path d="M3061.7 749.7L3076.0 772.7L3047.4 772.7Z" fill="#0a1ef0"/>
<path d="M3102.8 657.7L3117.1 680.7L3088.5 680.7Z" fill="#0a1ef0"/>
<path d="M3143.9 550.7L3158.2 573.7L3129.6 573.7Z" fill="#0a1ef0"/>
<path d="M3185.0 623.7L3199.3 646.7L3170.7 646.7Z" fill="#0a1ef0"/>
<path d="M3226.1 778.7L3240.4 801.7L3211.8 801.7Z" fill="#0a1ef0"/>
<path d="M3267.2 834.7L3281.5 857.7L3252.9 857.7Z" fill="#0a1ef0"/>
<path d="M3308.3 714.7L3322.6 737.7L3294.0 737.7Z" fill="#0a1ef0"/>
<path d="M3349.4 605.7L3363.7 628.7L3335.1 628.7Z" fill="#0a1ef0"/>
<path d="M3390.5 609.7L3404.8 632.7L3376.2 632.7Z" fill="#0a1ef0"/>
<path d="M3431.6 631.7L3445.9 654.7L3417.3 654.7Z" fill="#0a1ef0"/>
<path d="M3472.7 482.7L3487.0 505.7L3458.4 505.7Z" fill="#0a1ef0"/>
<path d="M3513.8 280.7L3528.1 303.7L3499.5 303.7Z" fill="#0a1ef0"/>
<path d="M3554.9 270.7L3569.2 293.7L3540.6 293.7Z" fill="#0a1ef0"/>
<path d="M3568.5 339.5L3582.8 362.5L3554.2 362.5Z" fill="#0a1ef0"/>
</g>
<rect x="2198.6" y="35.5" width="1369.9" height="991.8" fill="none" stroke="#0a0a0a" stroke-width="4.5"/>
<line x1="2198.6" x2="2218.6" y1="862.0" y2="862.0" stroke="#0a0a0a" stroke-width="4.5"/>
<line x1="2198.6" x2="2218.6" y1="696.7" y2="696.7" stroke="#0a0a0a" stroke-width="4.5"/>
<line x1="2198.6" x2="2218.6" y1="531.4" y2="531.4" stroke="#0a0a0a" stroke-width="4.5"/>
<line x1="2198.6" x2="2218.6" y1="366.1" y2="366.1" stroke="#0a0a0a" stroke-width="4.5"/>
<line x1="2198.6" x2="2218.6" y1="200.8" y2="200.8" stroke="#0a0a0a" stroke-width="4.5"/>
<text x="2175.6" y="1048.6" text-anchor="end" font-size="68">−200</text>
<text x="2175.6" y="883.3" text-anchor="end" font-size="68">−100</text>
<text x="2175.6" y="718.0" text-anchor="end" font-size="68">0</text>
<text x="2175.6" y="552.7" text-anchor="end" font-size="68">100</text>
<text x="2175.6" y="387.4" text-anchor="end" font-size="68">200</text>
<text x="2175.6" y="222.1" text-anchor="end" font-size="68">300</text>
<text x="2175.6" y="56.8" text-anchor="end" font-size="68">400</text>
<line x1="2369.8" x2="2369.8" y1="1027.3" y2="1007.3" stroke="#0a0a0a" stroke-width="4.5"/>
<line x1="2541.1" x2="2541.1" y1="1027.3" y2="1007.3" stroke="#0a0a0a" stroke-width="4.5"/>
<line x1="2712.3" x2="2712.3" y1="1027.3" y2="1007.3" stroke="#0a0a0a" stroke-width="4.5"/>
<line x1="2883.6" x2="2883.6" y1="1027.3" y2="1007.3" stroke="#0a0a0a" stroke-width="4.5"/>
<line x1="3054.8" x2="3054.8" y1="1027.3" y2="1007.3" stroke="#0a0a0a" stroke-width="4.5"/>
<line x1="3226.0" x2="3226.0" y1="1027.3" y2="1007.3" stroke="#0a0a0a" stroke-width="4.5"/>
<line x1="3397.3" x2="3397.3" y1="1027.3" y2="1007.3" stroke="#0a0a0a" stroke-width="4.5"/>
<text x="2198.6" y="1105.3" text-anchor="middle" font-size="68">0</text>
<text x="2369.8" y="1105.3" text-anchor="middle" font-size="68">0.2</text>
<text x="2541.1" y="1105.3" text-anchor="middle" font-size="68">0.4</text>
<text x="2712.3" y="1105.3" text-anchor="middle" font-size="68">0.6</text>
<text x="2883.6" y="1105.3" text-anchor="middle" font-size="68">0.8</text>
<text x="3054.8" y="1105.3" text-anchor="middle" font-size="68">1.0</text>
<text x="3226.0" y="1105.3" text-anchor="middle" font-size="68">1.2</text>
<text x="3397.3" y="1105.3" text-anchor="middle" font-size="68">1.4</text>
<text x="3568.5" y="1105.3" text-anchor="middle" font-size="68">1.6</text>
<text x="2883.6" y="1200.0" text-anchor="middle">Time/ms</text>
<text transform="translate(2025.3 531.4) rotate(-90)" x="0" y="0" text-anchor="middle">Pressure/kPa</text>
<text x="2147.3" y="1296.3" font-size="66.78">(b) Frontal bone under the behind shock loading</text>
<line x1="2275.1" x2="2393.2" y1="107.0" y2="107.0" stroke="#0c0c0c" stroke-width="3.8"/>
<rect x="2324.1" y="97.2" width="21.8" height="19.6" fill="#0a0a0a"/>
<text x="2421.2" y="129.0" font-size="68.3">60 g</text>
<line x1="2275.1" x2="2393.2" y1="181.8" y2="181.8" stroke="#e8143c" stroke-width="3.8"/>
<circle cx="2335.0" cy="181.8" r="11.2" fill="#ff1c26"/><circle cx="2330.5" cy="177.3" r="3.2" fill="#ffc8d8"/>
<text x="2421.2" y="203.8" font-size="68.3">50 g</text>
<line x1="2275.1" x2="2393.2" y1="256.8" y2="256.8" stroke="#1424d0" stroke-width="3.8"/>
<path d="M2335.0 242.5L2349.3 265.5L2320.7 265.5Z" fill="#0a1ef0"/>
<text x="2421.2" y="278.8" font-size="68.3">40 g</text>
<g clip-path="url(#clipc)">
<path d="M429.5 2403.3C443.2 2403.3 456.9 2403.3 470.6 2403.3C484.3 2403.3 498.0 2403.3 511.7 2403.3C525.4 2403.3 539.1 2403.3 552.8 2403.3C566.5 2403.3 580.2 2403.3 593.9 2403.3C607.6 2403.3 621.3 2403.3 635.0 2403.3C648.7 2403.3 662.4 2403.3 676.1 2403.3C689.8 2403.3 703.5 2403.3 717.2 2403.3C730.9 2403.3 744.6 2403.3 758.3 2403.3C772.0 2403.3 785.7 2403.3 799.4 2403.3C813.1 2403.3 826.8 2403.3 840.5 2403.3C854.2 2403.3 867.9 2403.3 881.6 2403.3C895.3 2403.3 909.0 2403.3 922.7 2403.3C936.4 2403.3 950.1 2403.3 963.8 2403.3C977.5 2403.3 991.2 2403.3 1004.9 2403.3C1018.6 2403.3 1032.3 2403.3 1046.0 2403.3C1059.7 2403.3 1073.4 2403.3 1087.1 2403.3C1100.8 2403.3 1114.5 2401.9 1128.2 2400.0C1141.9 2398.1 1155.6 2391.3 1169.3 2378.4C1183.0 2365.5 1196.7 2276.9 1210.4 2191.2C1224.1 2105.5 1237.8 1879.2 1251.5 1781.3C1265.2 1683.4 1278.9 1552.5 1292.6 1552.5C1297.2 1552.5 1301.8 1575.5 1306.4 1595.9C1315.5 1636.3 1324.6 1757.7 1333.7 1844.8C1347.4 1975.9 1361.1 2186.3 1374.8 2261.6C1384.4 2314.3 1394.0 2366.5 1403.6 2374.0C1407.7 2377.2 1411.8 2380.0 1415.9 2380.0C1429.6 2380.0 1443.3 2315.3 1457.0 2284.0C1470.7 2252.7 1484.4 2214.7 1498.1 2192.0C1511.8 2169.3 1525.5 2162.3 1539.2 2138.0C1552.9 2113.7 1566.6 2070.3 1580.3 2026.0C1594.0 1981.7 1607.7 1891.2 1621.4 1862.3C1630.2 1843.6 1639.1 1822.5 1647.9 1822.5C1652.8 1822.5 1657.6 1829.4 1662.5 1836.5C1667.7 1844.1 1672.9 1868.6 1678.1 1886.7C1686.6 1916.4 1695.1 1956.0 1703.6 1985.4C1717.3 2032.9 1731.0 2102.8 1744.7 2112.2C1758.4 2121.6 1772.1 2128.0 1785.8 2128.0C1790.4 2128.0 1794.9 2112.7 1799.5 2105.0" fill="none" stroke="#0c0c0c" stroke-width="3.2" stroke-linejoin="round"/>
<rect x="418.6" y="2393.5" width="21.8" height="19.6" fill="#0a0a0a"/>
<rect x="459.7" y="2393.5" width="21.8" height="19.6" fill="#0a0a0a"/>
<rect x="500.8" y="2393.5" width="21.8" height="19.6" fill="#0a0a0a"/>
<rect x="541.9" y="2393.5" width="21.8" height="19.6" fill="#0a0a0a"/>
<rect x="583.0" y="2393.5" width="21.8" height="19.6" fill="#0a0a0a"/>
<rect x="624.1" y="2393.5" width="21.8" height="19.6" fill="#0a0a0a"/>
<rect x="665.2" y="2393.5" width="21.8" height="19.6" fill="#0a0a0a"/>
<rect x="706.3" y="2393.5" width="21.8" height="19.6" fill="#0a0a0a"/>
<rect x="747.4" y="2393.5" width="21.8" height="19.6" fill="#0a0a0a"/>
<rect x="788.5" y="2393.5" width="21.8" height="19.6" fill="#0a0a0a"/>
<rect x="829.6" y="2393.5" width="21.8" height="19.6" fill="#0a0a0a"/>
<rect x="870.7" y="2393.5" width="21.8" height="19.6" fill="#0a0a0a"/>
<rect x="911.8" y="2393.5" width="21.8" height="19.6" fill="#0a0a0a"/>
<rect x="952.9" y="2393.5" width="21.8" height="19.6" fill="#0a0a0a"/>
<rect x="994.0" y="2393.5" width="21.8" height="19.6" fill="#0a0a0a"/>
<rect x="1035.1" y="2393.5" width="21.8" height="19.6" fill="#0a0a0a"/>
<rect x="1076.2" y="2393.5" width="21.8" height="19.6" fill="#0a0a0a"/>
<rect x="1117.3" y="2390.2" width="21.8" height="19.6" fill="#0a0a0a"/>
<rect x="1158.4" y="2368.6" width="21.8" height="19.6" fill="#0a0a0a"/>
<rect x="1199.5" y="2181.4" width="21.8" height="19.6" fill="#0a0a0a"/>
<rect x="1240.6" y="1771.5" width="21.8" height="19.6" fill="#0a0a0a"/>
<rect x="1281.7" y="1542.7" width="21.8" height="19.6" fill="#0a0a0a"/>
<rect x="1322.8" y="1835.0" width="21.8" height="19.6" fill="#0a0a0a"/>
<rect x="1363.9" y="2251.8" width="21.8" height="19.6" fill="#0a0a0a"/>
<rect x="1405.0" y="2370.2" width="21.8" height="19.6" fill="#0a0a0a"/>
<rect x="1446.1" y="2274.2" width="21.8" height="19.6" fill="#0a0a0a"/>
<rect x="1487.2" y="2182.2" width="21.8" height="19.6" fill="#0a0a0a"/>
<rect x="1528.3" y="2128.2" width="21.8" height="19.6" fill="#0a0a0a"/>
<rect x="1569.4" y="2016.2" width="21.8" height="19.6" fill="#0a0a0a"/>
<rect x="1610.5" y="1852.5" width="21.8" height="19.6" fill="#0a0a0a"/>
<rect x="1651.6" y="1826.7" width="21.8" height="19.6" fill="#0a0a0a"/>
<rect x="1692.7" y="1975.6" width="21.8" height="19.6" fill="#0a0a0a"/>
<rect x="1733.8" y="2102.4" width="21.8" height="19.6" fill="#0a0a0a"/>
<rect x="1774.9" y="2118.2" width="21.8" height="19.6" fill="#0a0a0a"/>
<rect x="1295.5" y="1586.1" width="21.8" height="19.6" fill="#0a0a0a"/>
<rect x="1788.6" y="2095.2" width="21.8" height="19.6" fill="#0a0a0a"/>
<path d="M429.5 2403.3C443.2 2403.3 456.9 2403.3 470.6 2403.3C484.3 2403.3 498.0 2403.3 511.7 2403.3C525.4 2403.3 539.1 2403.3 552.8 2403.3C566.5 2403.3 580.2 2403.3 593.9 2403.3C607.6 2403.3 621.3 2403.3 635.0 2403.3C648.7 2403.3 662.4 2403.3 676.1 2403.3C689.8 2403.3 703.5 2403.3 717.2 2403.3C730.9 2403.3 744.6 2403.3 758.3 2403.3C772.0 2403.3 785.7 2403.3 799.4 2403.3C813.1 2403.3 826.8 2403.3 840.5 2403.3C854.2 2403.3 867.9 2403.3 881.6 2403.3C895.3 2403.3 909.0 2403.3 922.7 2403.3C936.4 2403.3 950.1 2403.3 963.8 2403.3C977.5 2403.3 991.2 2403.3 1004.9 2403.3C1018.6 2403.3 1032.3 2403.3 1046.0 2403.3C1059.7 2403.3 1073.4 2403.3 1087.1 2403.3C1100.8 2403.3 1114.5 2402.1 1128.2 2401.0C1141.9 2399.9 1155.6 2398.8 1169.3 2395.0C1183.0 2391.2 1196.7 2340.2 1210.4 2279.2C1224.1 2218.2 1237.8 1946.1 1251.5 1843.4C1265.2 1740.7 1278.9 1605.3 1292.6 1605.3C1306.3 1605.3 1320.0 1833.3 1333.7 1959.2C1347.4 2085.1 1361.1 2315.9 1374.8 2364.0C1381.2 2386.5 1387.6 2408.8 1394.0 2408.8C1397.7 2408.8 1401.3 2408.5 1405.0 2408.0C1408.6 2407.5 1412.3 2381.5 1415.9 2368.8C1429.6 2320.7 1443.3 2253.6 1457.0 2229.6C1470.7 2205.6 1484.4 2195.8 1498.1 2181.1C1511.8 2166.4 1525.5 2159.1 1539.2 2140.5C1552.9 2121.9 1566.6 2083.3 1580.3 2050.6C1594.0 2017.9 1607.7 1959.7 1621.4 1942.3C1635.1 1924.9 1648.8 1907.8 1662.5 1907.8C1676.2 1907.8 1689.9 1941.9 1703.6 1968.0C1717.3 1994.1 1731.0 2052.1 1744.7 2080.2C1758.4 2108.3 1772.1 2125.3 1785.8 2147.8" fill="none" stroke="#e8143c" stroke-width="3.2" stroke-linejoin="round"/>
<circle cx="429.5" cy="2403.3" r="11.2" fill="#ff1c26"/><circle cx="425.0" cy="2398.8" r="3.2" fill="#ffc8d8"/>
<circle cx="470.6" cy="2403.3" r="11.2" fill="#ff1c26"/><circle cx="466.1" cy="2398.8" r="3.2" fill="#ffc8d8"/>
<circle cx="511.7" cy="2403.3" r="11.2" fill="#ff1c26"/><circle cx="507.2" cy="2398.8" r="3.2" fill="#ffc8d8"/>
<circle cx="552.8" cy="2403.3" r="11.2" fill="#ff1c26"/><circle cx="548.3" cy="2398.8" r="3.2" fill="#ffc8d8"/>
<circle cx="593.9" cy="2403.3" r="11.2" fill="#ff1c26"/><circle cx="589.4" cy="2398.8" r="3.2" fill="#ffc8d8"/>
<circle cx="635.0" cy="2403.3" r="11.2" fill="#ff1c26"/><circle cx="630.5" cy="2398.8" r="3.2" fill="#ffc8d8"/>
<circle cx="676.1" cy="2403.3" r="11.2" fill="#ff1c26"/><circle cx="671.6" cy="2398.8" r="3.2" fill="#ffc8d8"/>
<circle cx="717.2" cy="2403.3" r="11.2" fill="#ff1c26"/><circle cx="712.7" cy="2398.8" r="3.2" fill="#ffc8d8"/>
<circle cx="758.3" cy="2403.3" r="11.2" fill="#ff1c26"/><circle cx="753.8" cy="2398.8" r="3.2" fill="#ffc8d8"/>
<circle cx="799.4" cy="2403.3" r="11.2" fill="#ff1c26"/><circle cx="794.9" cy="2398.8" r="3.2" fill="#ffc8d8"/>
<circle cx="840.5" cy="2403.3" r="11.2" fill="#ff1c26"/><circle cx="836.0" cy="2398.8" r="3.2" fill="#ffc8d8"/>
<circle cx="881.6" cy="2403.3" r="11.2" fill="#ff1c26"/><circle cx="877.1" cy="2398.8" r="3.2" fill="#ffc8d8"/>
<circle cx="922.7" cy="2403.3" r="11.2" fill="#ff1c26"/><circle cx="918.2" cy="2398.8" r="3.2" fill="#ffc8d8"/>
<circle cx="963.8" cy="2403.3" r="11.2" fill="#ff1c26"/><circle cx="959.3" cy="2398.8" r="3.2" fill="#ffc8d8"/>
<circle cx="1004.9" cy="2403.3" r="11.2" fill="#ff1c26"/><circle cx="1000.4" cy="2398.8" r="3.2" fill="#ffc8d8"/>
<circle cx="1046.0" cy="2403.3" r="11.2" fill="#ff1c26"/><circle cx="1041.5" cy="2398.8" r="3.2" fill="#ffc8d8"/>
<circle cx="1087.1" cy="2403.3" r="11.2" fill="#ff1c26"/><circle cx="1082.6" cy="2398.8" r="3.2" fill="#ffc8d8"/>
<circle cx="1128.2" cy="2401.0" r="11.2" fill="#ff1c26"/><circle cx="1123.7" cy="2396.5" r="3.2" fill="#ffc8d8"/>
<circle cx="1169.3" cy="2395.0" r="11.2" fill="#ff1c26"/><circle cx="1164.8" cy="2390.5" r="3.2" fill="#ffc8d8"/>
<circle cx="1210.4" cy="2279.2" r="11.2" fill="#ff1c26"/><circle cx="1205.9" cy="2274.7" r="3.2" fill="#ffc8d8"/>
<circle cx="1251.5" cy="1843.4" r="11.2" fill="#ff1c26"/><circle cx="1247.0" cy="1838.9" r="3.2" fill="#ffc8d8"/>
<circle cx="1292.6" cy="1605.3" r="11.2" fill="#ff1c26"/><circle cx="1288.1" cy="1600.8" r="3.2" fill="#ffc8d8"/>
<circle cx="1333.7" cy="1959.2" r="11.2" fill="#ff1c26"/><circle cx="1329.2" cy="1954.7" r="3.2" fill="#ffc8d8"/>
<circle cx="1374.8" cy="2364.0" r="11.2" fill="#ff1c26"/><circle cx="1370.3" cy="2359.5" r="3.2" fill="#ffc8d8"/>
<circle cx="1415.9" cy="2368.8" r="11.2" fill="#ff1c26"/><circle cx="1411.4" cy="2364.3" r="3.2" fill="#ffc8d8"/>
<circle cx="1457.0" cy="2229.6" r="11.2" fill="#ff1c26"/><circle cx="1452.5" cy="2225.1" r="3.2" fill="#ffc8d8"/>
<circle cx="1498.1" cy="2181.1" r="11.2" fill="#ff1c26"/><circle cx="1493.6" cy="2176.6" r="3.2" fill="#ffc8d8"/>
<circle cx="1539.2" cy="2140.5" r="11.2" fill="#ff1c26"/><circle cx="1534.7" cy="2136.0" r="3.2" fill="#ffc8d8"/>
<circle cx="1580.3" cy="2050.6" r="11.2" fill="#ff1c26"/><circle cx="1575.8" cy="2046.1" r="3.2" fill="#ffc8d8"/>
<circle cx="1621.4" cy="1942.3" r="11.2" fill="#ff1c26"/><circle cx="1616.9" cy="1937.8" r="3.2" fill="#ffc8d8"/>
<circle cx="1662.5" cy="1907.8" r="11.2" fill="#ff1c26"/><circle cx="1658.0" cy="1903.3" r="3.2" fill="#ffc8d8"/>
<circle cx="1703.6" cy="1968.0" r="11.2" fill="#ff1c26"/><circle cx="1699.1" cy="1963.5" r="3.2" fill="#ffc8d8"/>
<circle cx="1744.7" cy="2080.2" r="11.2" fill="#ff1c26"/><circle cx="1740.2" cy="2075.7" r="3.2" fill="#ffc8d8"/>
<circle cx="1785.8" cy="2147.8" r="11.2" fill="#ff1c26"/><circle cx="1781.3" cy="2143.3" r="3.2" fill="#ffc8d8"/>
<path d="M429.5 2403.3C443.2 2403.3 456.9 2403.3 470.6 2403.3C484.3 2403.3 498.0 2403.3 511.7 2403.3C525.4 2403.3 539.1 2403.3 552.8 2403.3C566.5 2403.3 580.2 2403.3 593.9 2403.3C607.6 2403.3 621.3 2403.3 635.0 2403.3C648.7 2403.3 662.4 2403.3 676.1 2403.3C689.8 2403.3 703.5 2403.3 717.2 2403.3C730.9 2403.3 744.6 2403.3 758.3 2403.3C772.0 2403.3 785.7 2403.3 799.4 2403.3C813.1 2403.3 826.8 2403.3 840.5 2403.3C854.2 2403.3 867.9 2403.3 881.6 2403.3C895.3 2403.3 909.0 2403.3 922.7 2403.3C936.4 2403.3 950.1 2403.3 963.8 2403.3C977.5 2403.3 991.2 2403.3 1004.9 2403.3C1018.6 2403.3 1032.3 2403.3 1046.0 2403.3C1059.7 2403.3 1073.4 2403.3 1087.1 2403.3C1100.8 2403.3 1114.5 2401.5 1128.2 2400.8C1141.9 2400.1 1155.6 2400.2 1169.3 2399.2C1183.0 2398.2 1196.7 2389.2 1210.4 2374.0C1224.1 2358.8 1237.8 2236.3 1251.5 2138.0C1265.2 2039.7 1278.9 1814.9 1292.6 1745.0C1297.4 1720.3 1302.3 1689.7 1307.1 1689.7C1316.0 1689.7 1324.8 1733.9 1333.7 1776.0C1347.4 1841.0 1361.1 2104.7 1374.8 2194.0C1388.5 2283.3 1402.2 2391.0 1415.9 2391.0C1429.6 2391.0 1443.3 2319.7 1457.0 2289.0C1470.7 2258.3 1484.4 2214.9 1498.1 2205.0C1511.8 2195.1 1525.5 2196.3 1539.2 2187.0C1552.9 2177.7 1566.6 2150.4 1580.3 2125.0C1594.0 2099.6 1607.7 2054.2 1621.4 2026.0C1635.1 1997.8 1648.8 1952.0 1662.5 1952.0C1676.2 1952.0 1689.9 1956.1 1703.6 1962.0C1717.3 1967.9 1731.0 2011.7 1744.7 2041.0C1758.4 2070.3 1772.1 2107.0 1785.8 2140.0" fill="none" stroke="#1424d0" stroke-width="3.2" stroke-linejoin="round"/>
<path d="M429.5 2389.0L443.8 2412.0L415.2 2412.0Z" fill="#0a1ef0"/>
<path d="M470.6 2389.0L484.9 2412.0L456.3 2412.0Z" fill="#0a1ef0"/>
<path d="M511.7 2389.0L526.0 2412.0L497.4 2412.0Z" fill="#0a1ef0"/>
<path d="M552.8 2389.0L567.1 2412.0L538.5 2412.0Z" fill="#0a1ef0"/>
<path d="M593.9 2389.0L608.2 2412.0L579.6 2412.0Z" fill="#0a1ef0"/>
<path d="M635.0 2389.0L649.3 2412.0L620.7 2412.0Z" fill="#0a1ef0"/>
<path d="M676.1 2389.0L690.4 2412.0L661.8 2412.0Z" fill="#0a1ef0"/>
<path d="M717.2 2389.0L731.5 2412.0L702.9 2412.0Z" fill="#0a1ef0"/>
<path d="M758.3 2389.0L772.6 2412.0L744.0 2412.0Z" fill="#0a1ef0"/>
<path d="M799.4 2389.0L813.7 2412.0L785.1 2412.0Z" fill="#0a1ef0"/>
<path d="M840.5 2389.0L854.8 2412.0L826.2 2412.0Z" fill="#0a1ef0"/>
<path d="M881.6 2389.0L895.9 2412.0L867.3 2412.0Z" fill="#0a1ef0"/>
<path d="M922.7 2389.0L937.0 2412.0L908.4 2412.0Z" fill="#0a1ef0"/>
<path d="M963.8 2389.0L978.1 2412.0L949.5 2412.0Z" fill="#0a1ef0"/>
<path d="M1004.9 2389.0L1019.2 2412.0L990.6 2412.0Z" fill="#0a1ef0"/>
<path d="M1046.0 2389.0L1060.3 2412.0L1031.7 2412.0Z" fill="#0a1ef0"/>
<path d="M1087.1 2389.0L1101.4 2412.0L1072.8 2412.0Z" fill="#0a1ef0"/>
<path d="M1128.2 2386.5L1142.5 2409.5L1113.9 2409.5Z" fill="#0a1ef0"/>
<path d="M1169.3 2384.9L1183.6 2407.9L1155.0 2407.9Z" fill="#0a1ef0"/>
<path d="M1210.4 2359.7L1224.7 2382.7L1196.1 2382.7Z" fill="#0a1ef0"/>
<path d="M1251.5 2123.7L1265.8 2146.7L1237.2 2146.7Z" fill="#0a1ef0"/>
<path d="M1292.6 1730.7L1306.9 1753.7L1278.3 1753.7Z" fill="#0a1ef0"/>
<path d="M1333.7 1761.7L1348.0 1784.7L1319.4 1784.7Z" fill="#0a1ef0"/>
<path d="M1374.8 2179.7L1389.1 2202.7L1360.5 2202.7Z" fill="#0a1ef0"/>
<path d="M1415.9 2376.7L1430.2 2399.7L1401.6 2399.7Z" fill="#0a1ef0"/>
<path d="M1457.0 2274.7L1471.3 2297.7L1442.7 2297.7Z" fill="#0a1ef0"/>
<path d="M1498.1 2190.7L1512.4 2213.7L1483.8 2213.7Z" fill="#0a1ef0"/>
<path d="M1539.2 2172.7L1553.5 2195.7L1524.9 2195.7Z" fill="#0a1ef0"/>
<path d="M1580.3 2110.7L1594.6 2133.7L1566.0 2133.7Z" fill="#0a1ef0"/>
<path d="M1621.4 2011.7L1635.7 2034.7L1607.1 2034.7Z" fill="#0a1ef0"/>
<path d="M1662.5 1937.7L1676.8 1960.7L1648.2 1960.7Z" fill="#0a1ef0"/>
<path d="M1703.6 1947.7L1717.9 1970.7L1689.3 1970.7Z" fill="#0a1ef0"/>
<path d="M1744.7 2026.7L1759.0 2049.7L1730.4 2049.7Z" fill="#0a1ef0"/>
<path d="M1785.8 2125.7L1800.1 2148.7L1771.5 2148.7Z" fill="#0a1ef0"/>
</g>
<rect x="429.5" y="1427.2" width="1370.0" height="991.8" fill="none" stroke="#0a0a0a" stroke-width="4.5"/>
<line x1="429.5" x2="449.5" y1="2403.3" y2="2403.3" stroke="#0a0a0a" stroke-width="4.5"/>
<line x1="429.5" x2="449.5" y1="2240.6" y2="2240.6" stroke="#0a0a0a" stroke-width="4.5"/>
<line x1="429.5" x2="449.5" y1="2077.9" y2="2077.9" stroke="#0a0a0a" stroke-width="4.5"/>
<line x1="429.5" x2="449.5" y1="1915.2" y2="1915.2" stroke="#0a0a0a" stroke-width="4.5"/>
<line x1="429.5" x2="449.5" y1="1752.6" y2="1752.6" stroke="#0a0a0a" stroke-width="4.5"/>
<line x1="429.5" x2="449.5" y1="1589.9" y2="1589.9" stroke="#0a0a0a" stroke-width="4.5"/>
<text x="406.5" y="2424.6" text-anchor="end" font-size="68">0</text>
<text x="406.5" y="2261.9" text-anchor="end" font-size="68">100</text>
<text x="406.5" y="2099.2" text-anchor="end" font-size="68">200</text>
<text x="406.5" y="1936.5" text-anchor="end" font-size="68">300</text>
<text x="406.5" y="1773.9" text-anchor="end" font-size="68">400</text>
<text x="406.5" y="1611.2" text-anchor="end" font-size="68">500</text>
<text x="406.5" y="1448.5" text-anchor="end" font-size="68">600</text>
<line x1="600.8" x2="600.8" y1="2419.0" y2="2399.0" stroke="#0a0a0a" stroke-width="4.5"/>
<line x1="772.0" x2="772.0" y1="2419.0" y2="2399.0" stroke="#0a0a0a" stroke-width="4.5"/>
<line x1="943.2" x2="943.2" y1="2419.0" y2="2399.0" stroke="#0a0a0a" stroke-width="4.5"/>
<line x1="1114.5" x2="1114.5" y1="2419.0" y2="2399.0" stroke="#0a0a0a" stroke-width="4.5"/>
<line x1="1285.8" x2="1285.8" y1="2419.0" y2="2399.0" stroke="#0a0a0a" stroke-width="4.5"/>
<line x1="1457.0" x2="1457.0" y1="2419.0" y2="2399.0" stroke="#0a0a0a" stroke-width="4.5"/>
<line x1="1628.2" x2="1628.2" y1="2419.0" y2="2399.0" stroke="#0a0a0a" stroke-width="4.5"/>
<text x="429.5" y="2497.0" text-anchor="middle" font-size="68">0</text>
<text x="600.8" y="2497.0" text-anchor="middle" font-size="68">0.2</text>
<text x="772.0" y="2497.0" text-anchor="middle" font-size="68">0.4</text>
<text x="943.2" y="2497.0" text-anchor="middle" font-size="68">0.6</text>
<text x="1114.5" y="2497.0" text-anchor="middle" font-size="68">0.8</text>
<text x="1285.8" y="2497.0" text-anchor="middle" font-size="68">1.0</text>
<text x="1457.0" y="2497.0" text-anchor="middle" font-size="68">1.2</text>
<text x="1628.2" y="2497.0" text-anchor="middle" font-size="68">1.4</text>
<text x="1799.5" y="2497.0" text-anchor="middle" font-size="68">1.6</text>
<text x="1114.5" y="2591.7" text-anchor="middle">Time/ms</text>
<text transform="translate(222.4 1923.1) rotate(-90)" x="0" y="0" text-anchor="middle">Pressure/kPa</text>
<text x="416.3" y="2688.0" font-size="66.78">(c) Brain tissue under the front shock loading</text>
<line x1="514.4" x2="632.5" y1="1504.0" y2="1504.0" stroke="#0c0c0c" stroke-width="3.8"/>
<rect x="562.4" y="1494.2" width="21.8" height="19.6" fill="#0a0a0a"/>
<text x="660.5" y="1526.0" font-size="68.3">60 g</text>
<line x1="514.4" x2="632.5" y1="1578.9" y2="1578.9" stroke="#e8143c" stroke-width="3.8"/>
<circle cx="573.3" cy="1578.9" r="11.2" fill="#ff1c26"/><circle cx="568.8" cy="1574.4" r="3.2" fill="#ffc8d8"/>
<text x="660.5" y="1600.9" font-size="68.3">50 g</text>
<line x1="514.4" x2="632.5" y1="1653.7" y2="1653.7" stroke="#1424d0" stroke-width="3.8"/>
<path d="M573.3 1639.4L587.6 1662.4L559.0 1662.4Z" fill="#0a1ef0"/>
<text x="660.5" y="1675.7" font-size="68.3">40 g</text>
<g clip-path="url(#clipd)">
<path d="M2198.6 1987.6C2212.3 1987.6 2226.0 1987.6 2239.7 1987.6C2253.4 1987.6 2267.1 1987.6 2280.8 1987.6C2294.5 1987.6 2308.2 1987.6 2321.9 1987.6C2335.6 1987.6 2349.3 1987.6 2363.0 1987.6C2376.7 1987.6 2390.4 1987.6 2404.1 1987.6C2417.8 1987.6 2431.5 1987.6 2445.2 1987.6C2458.9 1987.6 2472.6 1987.6 2486.3 1987.6C2500.0 1987.6 2513.7 1987.6 2527.4 1987.6C2541.1 1987.6 2554.8 1987.6 2568.5 1987.6C2582.2 1987.6 2595.9 1987.6 2609.6 1987.6C2623.3 1987.6 2637.0 1987.6 2650.7 1987.6C2664.4 1987.6 2678.1 1987.6 2691.8 1987.6C2705.5 1987.6 2719.2 1987.6 2732.9 1987.6C2746.6 1987.6 2760.3 1987.6 2774.0 1987.6C2787.7 1987.6 2801.4 1987.6 2815.1 1987.6C2828.8 1987.6 2842.5 1986.0 2856.2 1986.0C2869.9 1986.0 2883.6 1986.7 2897.3 1988.0C2911.0 1989.3 2924.7 2006.2 2938.4 2019.3C2952.1 2032.4 2965.8 2055.7 2979.5 2071.6C2993.2 2087.5 3006.9 2100.2 3020.6 2115.5C3034.3 2130.8 3048.0 2145.7 3061.7 2163.6C3075.4 2181.5 3089.1 2201.5 3102.8 2224.5C3116.5 2247.5 3130.2 2285.8 3143.9 2303.8C3157.6 2321.8 3171.3 2344.8 3185.0 2344.8C3198.7 2344.8 3212.4 2339.1 3226.1 2332.1C3239.8 2325.1 3253.5 2293.2 3267.2 2273.0C3280.9 2252.8 3294.6 2235.3 3308.3 2211.0C3322.0 2186.7 3335.7 2159.8 3349.4 2122.3C3363.1 2084.8 3376.8 2027.1 3390.5 1968.7C3404.2 1910.3 3417.9 1829.2 3431.6 1764.9C3445.3 1700.6 3459.0 1616.8 3472.7 1581.8C3486.4 1546.8 3500.1 1508.3 3513.8 1508.3C3518.8 1508.3 3523.9 1514.1 3528.9 1519.4C3534.7 1525.5 3540.4 1539.4 3546.2 1553.8C3549.1 1561.0 3552.0 1572.1 3554.9 1581.0C3559.4 1594.9 3564.0 1608.3 3568.5 1622.0" fill="none" stroke="#0c0c0c" stroke-width="3.2" stroke-linejoin="round"/>
<rect x="2187.7" y="1977.8" width="21.8" height="19.6" fill="#0a0a0a"/>
<rect x="2228.8" y="1977.8" width="21.8" height="19.6" fill="#0a0a0a"/>
<rect x="2269.9" y="1977.8" width="21.8" height="19.6" fill="#0a0a0a"/>
<rect x="2311.0" y="1977.8" width="21.8" height="19.6" fill="#0a0a0a"/>
<rect x="2352.1" y="1977.8" width="21.8" height="19.6" fill="#0a0a0a"/>
<rect x="2393.2" y="1977.8" width="21.8" height="19.6" fill="#0a0a0a"/>
<rect x="2434.3" y="1977.8" width="21.8" height="19.6" fill="#0a0a0a"/>
<rect x="2475.4" y="1977.8" width="21.8" height="19.6" fill="#0a0a0a"/>
<rect x="2516.5" y="1977.8" width="21.8" height="19.6" fill="#0a0a0a"/>
<rect x="2557.6" y="1977.8" width="21.8" height="19.6" fill="#0a0a0a"/>
<rect x="2598.7" y="1977.8" width="21.8" height="19.6" fill="#0a0a0a"/>
<rect x="2639.8" y="1977.8" width="21.8" height="19.6" fill="#0a0a0a"/>
<rect x="2680.9" y="1977.8" width="21.8" height="19.6" fill="#0a0a0a"/>
<rect x="2722.0" y="1977.8" width="21.8" height="19.6" fill="#0a0a0a"/>
<rect x="2763.1" y="1977.8" width="21.8" height="19.6" fill="#0a0a0a"/>
<rect x="2804.2" y="1977.8" width="21.8" height="19.6" fill="#0a0a0a"/>
<rect x="2845.3" y="1976.2" width="21.8" height="19.6" fill="#0a0a0a"/>
<rect x="2886.4" y="1978.2" width="21.8" height="19.6" fill="#0a0a0a"/>
<rect x="2927.5" y="2009.5" width="21.8" height="19.6" fill="#0a0a0a"/>
<rect x="2968.6" y="2061.8" width="21.8" height="19.6" fill="#0a0a0a"/>
<rect x="3009.7" y="2105.7" width="21.8" height="19.6" fill="#0a0a0a"/>
<rect x="3050.8" y="2153.8" width="21.8" height="19.6" fill="#0a0a0a"/>
<rect x="3091.9" y="2214.7" width="21.8" height="19.6" fill="#0a0a0a"/>
<rect x="3133.0" y="2294.0" width="21.8" height="19.6" fill="#0a0a0a"/>
<rect x="3174.1" y="2335.0" width="21.8" height="19.6" fill="#0a0a0a"/>
<rect x="3215.2" y="2322.3" width="21.8" height="19.6" fill="#0a0a0a"/>
<rect x="3256.3" y="2263.2" width="21.8" height="19.6" fill="#0a0a0a"/>
<rect x="3297.4" y="2201.2" width="21.8" height="19.6" fill="#0a0a0a"/>
<rect x="3338.5" y="2112.5" width="21.8" height="19.6" fill="#0a0a0a"/>
<rect x="3379.6" y="1958.9" width="21.8" height="19.6" fill="#0a0a0a"/>
<rect x="3420.7" y="1755.1" width="21.8" height="19.6" fill="#0a0a0a"/>
<rect x="3461.8" y="1572.0" width="21.8" height="19.6" fill="#0a0a0a"/>
<rect x="3502.9" y="1498.5" width="21.8" height="19.6" fill="#0a0a0a"/>
<rect x="3544.0" y="1571.2" width="21.8" height="19.6" fill="#0a0a0a"/>
<rect x="3557.6" y="1612.2" width="21.8" height="19.6" fill="#0a0a0a"/>
<path d="M2198.6 1987.6C2212.3 1987.6 2226.0 1987.6 2239.7 1987.6C2253.4 1987.6 2267.1 1987.6 2280.8 1987.6C2294.5 1987.6 2308.2 1987.6 2321.9 1987.6C2335.6 1987.6 2349.3 1987.6 2363.0 1987.6C2376.7 1987.6 2390.4 1987.6 2404.1 1987.6C2417.8 1987.6 2431.5 1987.6 2445.2 1987.6C2458.9 1987.6 2472.6 1987.6 2486.3 1987.6C2500.0 1987.6 2513.7 1987.6 2527.4 1987.6C2541.1 1987.6 2554.8 1987.6 2568.5 1987.6C2582.2 1987.6 2595.9 1987.6 2609.6 1987.6C2623.3 1987.6 2637.0 1987.6 2650.7 1987.6C2664.4 1987.6 2678.1 1987.6 2691.8 1987.6C2705.5 1987.6 2719.2 1987.6 2732.9 1987.6C2746.6 1987.6 2760.3 1987.6 2774.0 1987.6C2787.7 1987.6 2801.4 1987.6 2815.1 1987.6C2828.8 1987.6 2842.5 1986.9 2856.2 1986.0C2869.9 1985.1 2883.6 1975.0 2897.3 1975.0C2911.0 1975.0 2924.7 1986.5 2938.4 1996.0C2952.1 2005.5 2965.8 2025.0 2979.5 2040.0C2993.2 2055.0 3006.9 2070.9 3020.6 2085.8C3034.3 2100.7 3048.0 2114.6 3061.7 2129.7C3075.4 2144.8 3089.1 2157.7 3102.8 2176.4C3116.5 2195.1 3130.2 2225.8 3143.9 2247.1C3157.6 2268.4 3171.3 2301.0 3185.0 2305.2C3198.7 2309.4 3212.4 2312.2 3226.1 2312.2C3239.8 2312.2 3253.5 2292.6 3267.2 2278.9C3280.9 2265.2 3294.6 2246.0 3308.3 2225.7C3322.0 2205.4 3335.7 2184.9 3349.4 2154.8C3363.1 2124.7 3376.8 2078.8 3390.5 2030.8C3404.2 1982.8 3417.9 1918.4 3431.6 1859.4C3445.3 1800.4 3459.0 1721.9 3472.7 1676.3C3486.4 1630.7 3500.1 1582.3 3513.8 1567.0C3518.0 1562.3 3522.3 1556.9 3526.5 1556.9C3536.0 1556.9 3545.4 1572.8 3554.9 1572.9C3559.4 1573.0 3564.0 1573.0 3568.5 1573.0" fill="none" stroke="#e8143c" stroke-width="3.2" stroke-linejoin="round"/>
<circle cx="2198.6" cy="1987.6" r="11.2" fill="#ff1c26"/><circle cx="2194.1" cy="1983.1" r="3.2" fill="#ffc8d8"/>
<circle cx="2239.7" cy="1987.6" r="11.2" fill="#ff1c26"/><circle cx="2235.2" cy="1983.1" r="3.2" fill="#ffc8d8"/>
<circle cx="2280.8" cy="1987.6" r="11.2" fill="#ff1c26"/><circle cx="2276.3" cy="1983.1" r="3.2" fill="#ffc8d8"/>
<circle cx="2321.9" cy="1987.6" r="11.2" fill="#ff1c26"/><circle cx="2317.4" cy="1983.1" r="3.2" fill="#ffc8d8"/>
<circle cx="2363.0" cy="1987.6" r="11.2" fill="#ff1c26"/><circle cx="2358.5" cy="1983.1" r="3.2" fill="#ffc8d8"/>
<circle cx="2404.1" cy="1987.6" r="11.2" fill="#ff1c26"/><circle cx="2399.6" cy="1983.1" r="3.2" fill="#ffc8d8"/>
<circle cx="2445.2" cy="1987.6" r="11.2" fill="#ff1c26"/><circle cx="2440.7" cy="1983.1" r="3.2" fill="#ffc8d8"/>
<circle cx="2486.3" cy="1987.6" r="11.2" fill="#ff1c26"/><circle cx="2481.8" cy="1983.1" r="3.2" fill="#ffc8d8"/>
<circle cx="2527.4" cy="1987.6" r="11.2" fill="#ff1c26"/><circle cx="2522.9" cy="1983.1" r="3.2" fill="#ffc8d8"/>
<circle cx="2568.5" cy="1987.6" r="11.2" fill="#ff1c26"/><circle cx="2564.0" cy="1983.1" r="3.2" fill="#ffc8d8"/>
<circle cx="2609.6" cy="1987.6" r="11.2" fill="#ff1c26"/><circle cx="2605.1" cy="1983.1" r="3.2" fill="#ffc8d8"/>
<circle cx="2650.7" cy="1987.6" r="11.2" fill="#ff1c26"/><circle cx="2646.2" cy="1983.1" r="3.2" fill="#ffc8d8"/>
<circle cx="2691.8" cy="1987.6" r="11.2" fill="#ff1c26"/><circle cx="2687.3" cy="1983.1" r="3.2" fill="#ffc8d8"/>
<circle cx="2732.9" cy="1987.6" r="11.2" fill="#ff1c26"/><circle cx="2728.4" cy="1983.1" r="3.2" fill="#ffc8d8"/>
<circle cx="2774.0" cy="1987.6" r="11.2" fill="#ff1c26"/><circle cx="2769.5" cy="1983.1" r="3.2" fill="#ffc8d8"/>
<circle cx="2815.1" cy="1987.6" r="11.2" fill="#ff1c26"/><circle cx="2810.6" cy="1983.1" r="3.2" fill="#ffc8d8"/>
<circle cx="2856.2" cy="1986.0" r="11.2" fill="#ff1c26"/><circle cx="2851.7" cy="1981.5" r="3.2" fill="#ffc8d8"/>
<circle cx="2897.3" cy="1975.0" r="11.2" fill="#ff1c26"/><circle cx="2892.8" cy="1970.5" r="3.2" fill="#ffc8d8"/>
<circle cx="2938.4" cy="1996.0" r="11.2" fill="#ff1c26"/><circle cx="2933.9" cy="1991.5" r="3.2" fill="#ffc8d8"/>
<circle cx="2979.5" cy="2040.0" r="11.2" fill="#ff1c26"/><circle cx="2975.0" cy="2035.5" r="3.2" fill="#ffc8d8"/>
<circle cx="3020.6" cy="2085.8" r="11.2" fill="#ff1c26"/><circle cx="3016.1" cy="2081.3" r="3.2" fill="#ffc8d8"/>
<circle cx="3061.7" cy="2129.7" r="11.2" fill="#ff1c26"/><circle cx="3057.2" cy="2125.2" r="3.2" fill="#ffc8d8"/>
<circle cx="3102.8" cy="2176.4" r="11.2" fill="#ff1c26"/><circle cx="3098.3" cy="2171.9" r="3.2" fill="#ffc8d8"/>
<circle cx="3143.9" cy="2247.1" r="11.2" fill="#ff1c26"/><circle cx="3139.4" cy="2242.6" r="3.2" fill="#ffc8d8"/>
<circle cx="3185.0" cy="2305.2" r="11.2" fill="#ff1c26"/><circle cx="3180.5" cy="2300.7" r="3.2" fill="#ffc8d8"/>
<circle cx="3226.1" cy="2312.2" r="11.2" fill="#ff1c26"/><circle cx="3221.6" cy="2307.7" r="3.2" fill="#ffc8d8"/>
<circle cx="3267.2" cy="2278.9" r="11.2" fill="#ff1c26"/><circle cx="3262.7" cy="2274.4" r="3.2" fill="#ffc8d8"/>
<circle cx="3308.3" cy="2225.7" r="11.2" fill="#ff1c26"/><circle cx="3303.8" cy="2221.2" r="3.2" fill="#ffc8d8"/>
<circle cx="3349.4" cy="2154.8" r="11.2" fill="#ff1c26"/><circle cx="3344.9" cy="2150.3" r="3.2" fill="#ffc8d8"/>
<circle cx="3390.5" cy="2030.8" r="11.2" fill="#ff1c26"/><circle cx="3386.0" cy="2026.3" r="3.2" fill="#ffc8d8"/>
<circle cx="3431.6" cy="1859.4" r="11.2" fill="#ff1c26"/><circle cx="3427.1" cy="1854.9" r="3.2" fill="#ffc8d8"/>
<circle cx="3472.7" cy="1676.3" r="11.2" fill="#ff1c26"/><circle cx="3468.2" cy="1671.8" r="3.2" fill="#ffc8d8"/>
<circle cx="3513.8" cy="1567.0" r="11.2" fill="#ff1c26"/><circle cx="3509.3" cy="1562.5" r="3.2" fill="#ffc8d8"/>
<circle cx="3554.9" cy="1572.9" r="11.2" fill="#ff1c26"/><circle cx="3550.4" cy="1568.4" r="3.2" fill="#ffc8d8"/>
<circle cx="3568.5" cy="1573.0" r="11.2" fill="#ff1c26"/><circle cx="3564.0" cy="1568.5" r="3.2" fill="#ffc8d8"/>
<path d="M2198.6 1987.6C2212.3 1987.6 2226.0 1987.6 2239.7 1987.6C2253.4 1987.6 2267.1 1987.6 2280.8 1987.6C2294.5 1987.6 2308.2 1987.6 2321.9 1987.6C2335.6 1987.6 2349.3 1987.6 2363.0 1987.6C2376.7 1987.6 2390.4 1987.6 2404.1 1987.6C2417.8 1987.6 2431.5 1987.6 2445.2 1987.6C2458.9 1987.6 2472.6 1987.6 2486.3 1987.6C2500.0 1987.6 2513.7 1987.6 2527.4 1987.6C2541.1 1987.6 2554.8 1987.6 2568.5 1987.6C2582.2 1987.6 2595.9 1987.6 2609.6 1987.6C2623.3 1987.6 2637.0 1987.6 2650.7 1987.6C2664.4 1987.6 2678.1 1987.6 2691.8 1987.6C2705.5 1987.6 2719.2 1987.6 2732.9 1987.6C2746.6 1987.6 2760.3 1987.6 2774.0 1987.6C2787.7 1987.6 2801.4 1987.6 2815.1 1987.6C2828.8 1987.6 2842.5 1986.8 2856.2 1986.1C2869.9 1985.4 2883.6 1981.9 2897.3 1981.9C2911.0 1981.9 2924.7 1988.0 2938.4 1994.4C2952.1 2000.8 2965.8 2022.6 2979.5 2035.4C2993.2 2048.2 3006.9 2058.7 3020.6 2071.6C3034.3 2084.5 3048.0 2100.5 3061.7 2113.2C3075.4 2125.9 3089.1 2133.6 3102.8 2148.1C3116.5 2162.6 3130.2 2185.9 3143.9 2206.1C3157.6 2226.3 3171.3 2256.7 3185.0 2269.8C3198.7 2282.9 3212.4 2298.1 3226.1 2298.1C3239.8 2298.1 3253.5 2288.0 3267.2 2278.9C3280.9 2269.8 3294.6 2249.1 3308.3 2231.6C3322.0 2214.1 3335.7 2196.8 3349.4 2172.6C3363.1 2148.4 3376.8 2115.5 3390.5 2078.0C3404.2 2040.5 3417.9 1989.5 3431.6 1939.2C3445.3 1888.9 3459.0 1824.1 3472.7 1773.8C3486.4 1723.5 3500.1 1669.5 3513.8 1635.0C3518.8 1622.3 3523.9 1606.3 3528.9 1603.0C3537.6 1597.3 3546.2 1593.6 3554.9 1593.6C3559.4 1593.6 3564.0 1605.9 3568.5 1612.0" fill="none" stroke="#1424d0" stroke-width="3.2" stroke-linejoin="round"/>
<path d="M2198.6 1973.3L2212.9 1996.3L2184.3 1996.3Z" fill="#0a1ef0"/>
<path d="M2239.7 1973.3L2254.0 1996.3L2225.4 1996.3Z" fill="#0a1ef0"/>
<path d="M2280.8 1973.3L2295.1 1996.3L2266.5 1996.3Z" fill="#0a1ef0"/>
<path d="M2321.9 1973.3L2336.2 1996.3L2307.6 1996.3Z" fill="#0a1ef0"/>
<path d="M2363.0 1973.3L2377.3 1996.3L2348.7 1996.3Z" fill="#0a1ef0"/>
<path d="M2404.1 1973.3L2418.4 1996.3L2389.8 1996.3Z" fill="#0a1ef0"/>
<path d="M2445.2 1973.3L2459.5 1996.3L2430.9 1996.3Z" fill="#0a1ef0"/>
<path d="M2486.3 1973.3L2500.6 1996.3L2472.0 1996.3Z" fill="#0a1ef0"/>
<path d="M2527.4 1973.3L2541.7 1996.3L2513.1 1996.3Z" fill="#0a1ef0"/>
<path d="M2568.5 1973.3L2582.8 1996.3L2554.2 1996.3Z" fill="#0a1ef0"/>
<path d="M2609.6 1973.3L2623.9 1996.3L2595.3 1996.3Z" fill="#0a1ef0"/>
<path d="M2650.7 1973.3L2665.0 1996.3L2636.4 1996.3Z" fill="#0a1ef0"/>
<path d="M2691.8 1973.3L2706.1 1996.3L2677.5 1996.3Z" fill="#0a1ef0"/>
<path d="M2732.9 1973.3L2747.2 1996.3L2718.6 1996.3Z" fill="#0a1ef0"/>
<path d="M2774.0 1973.3L2788.3 1996.3L2759.7 1996.3Z" fill="#0a1ef0"/>
<path d="M2815.1 1973.3L2829.4 1996.3L2800.8 1996.3Z" fill="#0a1ef0"/>
<path d="M2856.2 1971.8L2870.5 1994.8L2841.9 1994.8Z" fill="#0a1ef0"/>
<path d="M2897.3 1967.6L2911.6 1990.6L2883.0 1990.6Z" fill="#0a1ef0"/>
<path d="M2938.4 1980.1L2952.7 2003.1L2924.1 2003.1Z" fill="#0a1ef0"/>
<path d="M2979.5 2021.1L2993.8 2044.1L2965.2 2044.1Z" fill="#0a1ef0"/>
<path d="M3020.6 2057.3L3034.9 2080.3L3006.3 2080.3Z" fill="#0a1ef0"/>
<path d="M3061.7 2098.9L3076.0 2121.9L3047.4 2121.9Z" fill="#0a1ef0"/>
<path d="M3102.8 2133.8L3117.1 2156.8L3088.5 2156.8Z" fill="#0a1ef0"/>
<path d="M3143.9 2191.8L3158.2 2214.8L3129.6 2214.8Z" fill="#0a1ef0"/>
<path d="M3185.0 2255.5L3199.3 2278.5L3170.7 2278.5Z" fill="#0a1ef0"/>
<path d="M3226.1 2283.8L3240.4 2306.8L3211.8 2306.8Z" fill="#0a1ef0"/>
<path d="M3267.2 2264.6L3281.5 2287.6L3252.9 2287.6Z" fill="#0a1ef0"/>
<path d="M3308.3 2217.3L3322.6 2240.3L3294.0 2240.3Z" fill="#0a1ef0"/>
<path d="M3349.4 2158.3L3363.7 2181.3L3335.1 2181.3Z" fill="#0a1ef0"/>
<path d="M3390.5 2063.7L3404.8 2086.7L3376.2 2086.7Z" fill="#0a1ef0"/>
<path d="M3431.6 1924.9L3445.9 1947.9L3417.3 1947.9Z" fill="#0a1ef0"/>
<path d="M3472.7 1759.5L3487.0 1782.5L3458.4 1782.5Z" fill="#0a1ef0"/>
<path d="M3513.8 1620.7L3528.1 1643.7L3499.5 1643.7Z" fill="#0a1ef0"/>
<path d="M3554.9 1579.3L3569.2 1602.3L3540.6 1602.3Z" fill="#0a1ef0"/>
<path d="M3568.5 1597.7L3582.8 1620.7L3554.2 1620.7Z" fill="#0a1ef0"/>
</g>
<rect x="2198.6" y="1427.2" width="1369.9" height="991.8" fill="none" stroke="#0a0a0a" stroke-width="4.5"/>
<line x1="2198.6" x2="2218.6" y1="2357.6" y2="2357.6" stroke="#0a0a0a" stroke-width="4.5"/>
<line x1="2198.6" x2="2218.6" y1="2233.8" y2="2233.8" stroke="#0a0a0a" stroke-width="4.5"/>
<line x1="2198.6" x2="2218.6" y1="2110.1" y2="2110.1" stroke="#0a0a0a" stroke-width="4.5"/>
<line x1="2198.6" x2="2218.6" y1="1986.3" y2="1986.3" stroke="#0a0a0a" stroke-width="4.5"/>
<line x1="2198.6" x2="2218.6" y1="1862.5" y2="1862.5" stroke="#0a0a0a" stroke-width="4.5"/>
<line x1="2198.6" x2="2218.6" y1="1738.7" y2="1738.7" stroke="#0a0a0a" stroke-width="4.5"/>
<line x1="2198.6" x2="2218.6" y1="1615.0" y2="1615.0" stroke="#0a0a0a" stroke-width="4.5"/>
<line x1="2198.6" x2="2218.6" y1="1491.2" y2="1491.2" stroke="#0a0a0a" stroke-width="4.5"/>
<text x="2175.6" y="2378.9" text-anchor="end" font-size="68">−300</text>
<text x="2175.6" y="2255.1" text-anchor="end" font-size="68">−200</text>
<text x="2175.6" y="2131.4" text-anchor="end" font-size="68">−100</text>
<text x="2175.6" y="2007.6" text-anchor="end" font-size="68">0</text>
<text x="2175.6" y="1883.8" text-anchor="end" font-size="68">100</text>
<text x="2175.6" y="1760.0" text-anchor="end" font-size="68">200</text>
<text x="2175.6" y="1636.3" text-anchor="end" font-size="68">300</text>
<text x="2175.6" y="1512.5" text-anchor="end" font-size="68">400</text>
<line x1="2369.8" x2="2369.8" y1="2419.0" y2="2399.0" stroke="#0a0a0a" stroke-width="4.5"/>
<line x1="2541.1" x2="2541.1" y1="2419.0" y2="2399.0" stroke="#0a0a0a" stroke-width="4.5"/>
<line x1="2712.3" x2="2712.3" y1="2419.0" y2="2399.0" stroke="#0a0a0a" stroke-width="4.5"/>
<line x1="2883.6" x2="2883.6" y1="2419.0" y2="2399.0" stroke="#0a0a0a" stroke-width="4.5"/>
<line x1="3054.8" x2="3054.8" y1="2419.0" y2="2399.0" stroke="#0a0a0a" stroke-width="4.5"/>
<line x1="3226.0" x2="3226.0" y1="2419.0" y2="2399.0" stroke="#0a0a0a" stroke-width="4.5"/>
<line x1="3397.3" x2="3397.3" y1="2419.0" y2="2399.0" stroke="#0a0a0a" stroke-width="4.5"/>
<text x="2198.6" y="2497.0" text-anchor="middle" font-size="68">0</text>
<text x="2369.8" y="2497.0" text-anchor="middle" font-size="68">0.2</text>
<text x="2541.1" y="2497.0" text-anchor="middle" font-size="68">0.4</text>
<text x="2712.3" y="2497.0" text-anchor="middle" font-size="68">0.6</text>
<text x="2883.6" y="2497.0" text-anchor="middle" font-size="68">0.8</text>
<text x="3054.8" y="2497.0" text-anchor="middle" font-size="68">1.0</text>
<text x="3226.0" y="2497.0" text-anchor="middle" font-size="68">1.2</text>
<text x="3397.3" y="2497.0" text-anchor="middle" font-size="68">1.4</text>
<text x="3568.5" y="2497.0" text-anchor="middle" font-size="68">1.6</text>
<text x="2883.6" y="2591.7" text-anchor="middle">Time/ms</text>
<text transform="translate(1993.5 1923.1) rotate(-90)" x="0" y="0" text-anchor="middle">Pressure/kPa</text>
<text x="2149.3" y="2688.0" font-size="66.78">(d) Brain tissue under the behind shock loading</text>
<line x1="2284.4" x2="2401.0" y1="1498.0" y2="1498.0" stroke="#0c0c0c" stroke-width="3.8"/>
<rect x="2331.4" y="1488.2" width="21.8" height="19.6" fill="#0a0a0a"/>
<text x="2429.0" y="1520.0" font-size="68.3">60 g</text>
<line x1="2284.4" x2="2401.0" y1="1572.6" y2="1572.6" stroke="#e8143c" stroke-width="3.8"/>
<circle cx="2342.3" cy="1572.6" r="11.2" fill="#ff1c26"/><circle cx="2337.8" cy="1568.1" r="3.2" fill="#ffc8d8"/>
<text x="2429.0" y="1594.6" font-size="68.3">50 g</text>
<line x1="2284.4" x2="2401.0" y1="1648.9" y2="1648.9" stroke="#1424d0" stroke-width="3.8"/>
<path d="M2342.3 1634.6L2356.6 1657.6L2328.0 1657.6Z" fill="#0a1ef0"/>
<text x="2429.0" y="1670.9" font-size="68.3">40 g</text>
</g>
</svg></body></html>
